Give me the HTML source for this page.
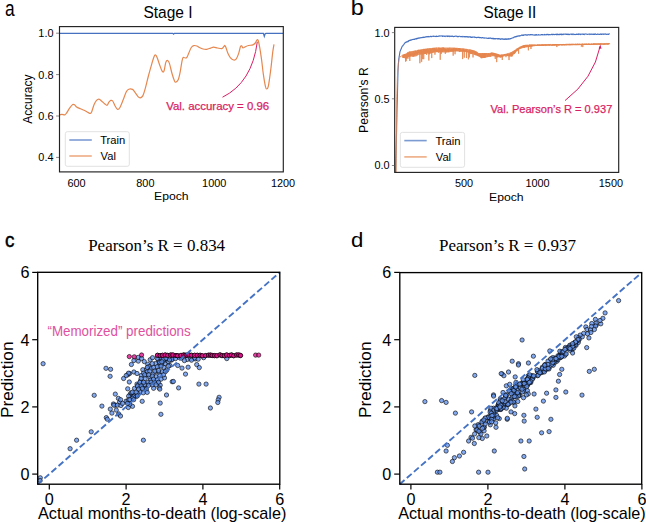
<!DOCTYPE html>
<html><head><meta charset="utf-8"><title>Figure</title>
<style>html,body{margin:0;padding:0;background:#fff;width:646px;height:523px;overflow:hidden}svg{display:block}</style>
</head><body>
<svg width="646" height="523" viewBox="0 0 646 523">
<rect width="646" height="523" fill="#fff"/>
<clipPath id="ca"><rect x="59.5" y="26.6" width="223.8" height="145.3"/></clipPath>
<path clip-path="url(#ca)" d="M59,33.4 L172.8,33.4 L173.6,34.2 L174.4,33.4 L263.4,33.4 L264.3,36.4 L265.2,33.6 L266.5,33.4 L283,33.4" fill="none" stroke="#4571c0" stroke-width="1.2"/>
<path clip-path="url(#ca)" d="M59,115.3 C59.45,115.13 60.73,114.37 61.7,114.3 C62.67,114.23 63.97,115.15 64.8,114.9 C65.63,114.65 65.87,113.98 66.7,112.8 C67.53,111.62 68.8,109.18 69.8,107.8 C70.8,106.42 71.87,104.97 72.7,104.5 C73.53,104.03 74.15,104.58 74.8,105 C75.45,105.42 75.67,106.37 76.6,107 C77.53,107.63 79.15,108.25 80.4,108.8 C81.65,109.35 82.97,109.78 84.1,110.3 C85.23,110.82 86.27,111.38 87.2,111.9 C88.13,112.42 88.98,113.35 89.7,113.4 C90.42,113.45 90.78,113.65 91.5,112.2 C92.22,110.75 93.17,106.67 94,104.7 C94.83,102.73 95.67,101.33 96.5,100.4 C97.33,99.47 98.17,99 99,99.1 C99.83,99.2 100.57,100.23 101.5,101 C102.43,101.77 103.67,102.98 104.6,103.7 C105.53,104.42 106.38,105.55 107.1,105.3 C107.82,105.05 108.28,103.02 108.9,102.2 C109.52,101.38 110.17,100.6 110.8,100.4 C111.43,100.2 111.98,100.07 112.7,101 C113.42,101.93 114.28,104.6 115.1,106 C115.92,107.4 116.77,109.2 117.6,109.4 C118.43,109.6 119.17,108.8 120.1,107.2 C121.03,105.6 122.17,102.38 123.2,99.8 C124.23,97.22 125.37,93.47 126.3,91.7 C127.23,89.93 127.77,89.58 128.8,89.2 C129.83,88.82 131.47,88.88 132.5,89.4 C133.53,89.92 134.08,91.1 135,92.3 C135.92,93.5 137.12,95.68 138,96.6 C138.88,97.52 139.5,97.92 140.3,97.8 C141.1,97.68 141.97,97.47 142.8,95.9 C143.63,94.33 144.37,91.72 145.3,88.4 C146.23,85.08 147.37,79.93 148.4,76 C149.43,72.07 150.57,68 151.5,64.8 C152.43,61.6 153.37,58.45 154,56.8 C154.63,55.15 154.78,54.8 155.3,54.9 C155.82,55 156.38,55.75 157.1,57.4 C157.82,59.05 158.77,62.52 159.6,64.8 C160.43,67.08 161.37,70.05 162.1,71.1 C162.83,72.15 163.38,72.55 164,71.1 C164.62,69.65 165.18,64.17 165.8,62.4 C166.42,60.63 167.08,60.3 167.7,60.5 C168.32,60.7 168.78,61.43 169.5,63.6 C170.22,65.77 171.17,70.6 172,73.5 C172.83,76.4 173.87,79.55 174.5,81 C175.13,82.45 175.18,82.4 175.8,82.2 C176.42,82 177.48,81.45 178.2,79.8 C178.92,78.15 179.47,75.42 180.1,72.3 C180.73,69.18 181.48,63.58 182,61.1 C182.52,58.62 182.68,57.92 183.2,57.4 C183.72,56.88 184.48,58 185.1,58 C185.72,58 186.28,58.23 186.9,57.4 C187.52,56.57 188.07,54.65 188.8,53 C189.53,51.35 190.47,48.73 191.3,47.5 C192.13,46.27 192.87,45.85 193.8,45.6 C194.73,45.35 195.97,45.68 196.9,46 C197.83,46.32 198.37,47 199.4,47.5 C200.43,48 201.87,48.7 203.1,49 C204.33,49.3 205.57,49.45 206.8,49.3 C208.03,49.15 209.37,48.45 210.5,48.1 C211.63,47.75 212.43,47.22 213.6,47.2 C214.77,47.18 216.13,47.77 217.5,48 C218.87,48.23 220.77,48.82 221.8,48.6 C222.83,48.38 223.18,47.22 223.7,46.7 C224.22,46.18 224.5,45.28 224.9,45.5 C225.3,45.72 225.58,46.65 226.1,48 C226.62,49.35 227.27,51.95 228,53.6 C228.73,55.25 229.57,56.83 230.5,57.9 C231.43,58.97 232.67,59.78 233.6,60 C234.53,60.22 235.27,60.27 236.1,59.2 C236.93,58.13 237.88,55.68 238.6,53.6 C239.32,51.52 239.88,47.98 240.4,46.7 C240.92,45.42 241.28,45.68 241.7,45.9 C242.12,46.12 242.28,47.87 242.9,48 C243.52,48.13 244.47,47.12 245.4,46.7 C246.33,46.28 247.25,45.8 248.5,45.5 C249.75,45.2 251.77,45.32 252.9,44.9 C254.03,44.48 254.62,43.83 255.3,43 C255.98,42.17 256.52,40.32 257,39.9 C257.48,39.48 257.75,39.25 258.2,40.5 C258.65,41.75 259.13,44.18 259.7,47.4 C260.27,50.62 260.98,55.25 261.6,59.8 C262.22,64.35 262.78,70.35 263.4,74.7 C264.02,79.05 264.78,83.52 265.3,85.9 C265.82,88.28 265.98,89 266.5,89 C267.02,89 267.67,89.32 268.4,85.9 C269.13,82.48 270.18,74.1 270.9,68.5 C271.62,62.9 272.18,56.33 272.7,52.3 C273.22,48.27 273.78,45.63 274,44.3" fill="none" stroke="#e6874f" stroke-width="1.2" stroke-linejoin="round"/>
<rect x="59.5" y="26.6" width="223.8" height="145.3" fill="none" stroke="#222" stroke-width="1.15"/>
<line x1="56.1" y1="33.2" x2="59" y2="33.2" stroke="#555" stroke-width="0.7"/>
<text x="53.5" y="37.1" font-size="10.9" text-anchor="end" fill="#000" style="font-family:'Liberation Sans'">1.0</text>
<line x1="56.1" y1="74.6" x2="59" y2="74.6" stroke="#555" stroke-width="0.7"/>
<text x="53.5" y="78.5" font-size="10.9" text-anchor="end" fill="#000" style="font-family:'Liberation Sans'">0.8</text>
<line x1="56.1" y1="116" x2="59" y2="116" stroke="#555" stroke-width="0.7"/>
<text x="53.5" y="119.9" font-size="10.9" text-anchor="end" fill="#000" style="font-family:'Liberation Sans'">0.6</text>
<line x1="56.1" y1="157.4" x2="59" y2="157.4" stroke="#555" stroke-width="0.7"/>
<text x="53.5" y="161.3" font-size="10.9" text-anchor="end" fill="#000" style="font-family:'Liberation Sans'">0.4</text>
<text x="76.6" y="186.5" font-size="10.9" text-anchor="middle" fill="#000" style="font-family:'Liberation Sans'">600</text>
<text x="145.4" y="186.5" font-size="10.9" text-anchor="middle" fill="#000" style="font-family:'Liberation Sans'">800</text>
<text x="214.2" y="186.5" font-size="10.9" text-anchor="middle" fill="#000" style="font-family:'Liberation Sans'">1000</text>
<text x="283" y="186.5" font-size="10.9" text-anchor="middle" fill="#000" style="font-family:'Liberation Sans'">1200</text>
<rect x="65.3" y="131.7" width="64" height="34.6" rx="2" fill="#fff" fill-opacity="0.8" stroke="#d9d9d9" stroke-width="0.8"/>
<line x1="69.3" y1="140" x2="91.8" y2="140" stroke="#4571c0" stroke-width="1.6" stroke-opacity="0.7"/>
<line x1="69.3" y1="156" x2="91.8" y2="156" stroke="#e6874f" stroke-width="1.6" stroke-opacity="0.7"/>
<path d="M222.5,97.2 Q252.1,82.5 257.3,41.8" fill="none" stroke="#d81e63" stroke-width="1"/>
<clipPath id="cb"><rect x="394.7" y="27.4" width="224.00000000000006" height="145.0"/></clipPath>
<polyline clip-path="url(#cb)" points="395.6,172.5 395.7,168.44 395.8,164.38 395.9,160.31 396,156.25 396.1,152.19 396.2,148.13 396.3,144.06 396.4,140 396.5,135 396.6,130 396.7,125 396.8,120 396.9,115 397,110 397.1,106.73 397.2,103.45 397.3,100.18 397.4,96.9 397.5,92.45 397.6,88 397.7,83.55 397.8,79.1 397.9,74.65 398,70.2 398.1,68.67 398.2,67.14 398.3,65.61 398.4,64.09 398.5,62.56 398.6,61.03 398.7,59.5 398.8,58.89 398.9,58.28 399,57.68 399.1,57.07 399.2,56.46 399.3,55.85 399.4,55.25 399.5,54.64 399.6,54.03 399.7,53.42 399.8,52.82 399.9,52.21 400,51.6 400.3,50.88 400.6,50.16 400.9,49.44 401.2,48.72 401.5,48 401.8,47.28 402.1,46.55 402.4,46.06 402.7,46.04 403,45.27 403.3,45.22 403.6,44.73 403.9,44.14 404.2,44.09 404.5,43.39 404.8,43.29 405.1,42.67 405.4,42.31 405.7,42.4 406,42.53 406.3,41.89 406.6,41.81 406.9,41.94 407.2,42.01 407.5,41.6 407.8,41.33 408.1,41.58 408.4,40.78 408.7,41.2 409,40.65 409.3,40.4 409.6,40.23 409.9,40.22 410.2,40.47 410.5,39.95 410.8,40.16 411.1,40.12 411.4,39.86 411.7,39.91 412,39.49 412.3,39.42 412.6,39.44 412.9,39.7 413.2,39.45 413.5,39.29 413.8,39.41 414.1,39.24 414.4,39.06 414.7,39.33 415,39.19 415.3,38.8 415.6,38.95 415.9,38.84 416.2,39.01 416.5,38.84 416.8,38.45 417.1,38.86 417.4,38.18 417.7,38.32 418,38.48 418.3,37.99 418.6,38.15 418.9,37.77 419.2,38.14 419.5,38.14 419.8,37.93 420.1,38.07 420.4,37.61 420.7,37.81 421,37.67 421.3,37.62 421.6,37.5 421.9,37.73 422.2,37.76 422.5,37.4 422.8,37.49 423.1,37.04 423.4,37.45 423.7,37.37 424,37.58 424.3,37.42 424.6,37.01 424.9,37.04 425.2,37.2 425.5,36.72 425.8,36.99 426.1,36.74 426.4,36.67 426.7,36.59 427,37.05 427.3,36.57 427.6,36.62 427.9,36.68 428.2,36.98 428.5,36.39 428.8,36.61 429.1,36.64 429.4,36.84 429.7,36.76 430,36.75 430.3,36.34 430.6,36.42 430.9,36.37 431.2,36.73 431.5,36.78 431.8,36.2 432.1,36.21 432.4,36.24 432.7,36.23 433,36.4 433.3,36.46 433.6,36.23 433.9,36.04 434.2,36.32 434.5,36.27 434.8,36.4 435.1,36.66 435.4,36.47 435.7,36.34 436,36.4 436.3,36.43 436.6,35.99 436.9,36.57 437.2,36.48 437.5,36.54 437.8,36.47 438.1,36.18 438.4,36.18 438.7,35.96 439,36.32 439.3,35.91 439.6,35.91 439.9,36 440.2,35.96 440.5,36.09 440.8,35.89 441.1,35.86 441.4,35.97 441.7,35.93 442,36.12 442.3,35.88 442.6,36.48 442.9,36.3 443.2,35.98 443.5,36.05 443.8,36.12 444.1,36.13 444.4,35.97 444.7,36.48 445,36.58 445.3,36.21 445.6,36.23 445.9,35.95 446.2,35.96 446.5,36.13 446.8,36.08 447.1,36.48 447.4,36.01 447.7,35.92 448,36.57 448.3,36.28 448.6,36.01 448.9,36.29 449.2,35.93 449.5,36.28 449.8,36.6 450.1,36.52 450.4,36.41 450.7,36.1 451,36.18 451.3,36.04 451.6,36.47 451.9,36.3 452.2,36.48 452.5,36.16 452.8,36.09 453.1,36.51 453.4,36.63 453.7,36.54 454,36.51 454.3,36.52 454.6,36.47 454.9,36.11 455.2,36.32 455.5,36.22 455.8,36 456.1,36.01 456.4,36.2 456.7,36.19 457,36.51 457.3,36.7 457.6,36.36 457.9,36.71 458.2,36.76 458.5,36.75 458.8,36.35 459.1,36.26 459.4,36.27 459.7,36.26 460,36.28 460.3,36.58 460.6,36.79 460.9,36.76 461.2,36.52 461.5,36.65 461.8,36.76 462.1,36.27 462.4,36.69 462.7,36.87 463,36.79 463.3,36.78 463.6,36.6 463.9,36.4 464.2,36.84 464.5,36.53 464.8,36.87 465.1,37 465.4,36.61 465.7,36.63 466,37.03 466.3,36.89 466.6,36.52 466.9,36.51 467.2,36.55 467.5,37.09 467.8,37.04 468.1,36.6 468.4,37.1 468.7,37.22 469,37.02 469.3,36.82 469.6,36.98 469.9,36.7 470.2,36.64 470.5,37.33 470.8,37.13 471.1,37.06 471.4,37.36 471.7,37.03 472,37.36 472.3,37.35 472.6,36.93 472.9,36.98 473.2,37.03 473.5,37.01 473.8,37.27 474.1,37.06 474.4,37.2 474.7,37.01 475,37.58 475.3,37.21 475.6,37.3 475.9,37.41 476.2,37.65 476.5,37.33 476.8,37.7 477.1,37.43 477.4,37.47 477.7,37.48 478,37.15 478.3,37.46 478.6,37.3 478.9,37.2 479.2,37.77 479.5,37.35 479.8,37.58 480.1,37.78 480.4,37.68 480.7,37.54 481,37.69 481.3,37.74 481.6,37.92 481.9,37.46 482.2,37.8 482.5,37.6 482.8,37.64 483.1,38.01 483.4,37.84 483.7,37.9 484,38.06 484.3,38.18 484.6,37.87 484.9,38.01 485.2,37.95 485.5,37.98 485.8,38.12 486.1,37.98 486.4,38.05 486.7,38.03 487,38.38 487.3,38.23 487.6,38.37 487.9,38.44 488.2,37.98 488.5,38.22 488.8,38.51 489.1,38.46 489.4,37.99 489.7,38 490,38.24 490.3,38.01 490.6,38.15 490.9,38.05 491.2,38.49 491.5,38.6 491.8,38.7 492.1,38.2 492.4,38.61 492.7,38.6 493,38.26 493.3,38.8 493.6,38.88 493.9,38.38 494.2,38.91 494.5,38.55 494.8,38.63 495.1,39.01 495.4,38.92 495.7,38.47 496,38.68 496.3,38.76 496.6,38.66 496.9,38.58 497.2,38.69 497.5,39 497.8,38.53 498.1,38.92 498.4,38.86 498.7,38.58 499,38.81 499.3,39.03 499.6,38.96 499.9,38.66 500.2,39.31 500.5,39.19 500.8,39.33 501.1,38.73 501.4,38.86 501.7,38.71 502,39.24 502.3,38.9 502.6,38.81 502.9,39.03 503.2,39.38 503.5,39.33 503.8,38.95 504.1,38.88 504.4,39.43 504.7,39.2 505,39.3 505.3,38.89 505.6,38.88 505.9,39.33 506.2,39.12 506.5,38.85 506.8,39.42 507.1,39.18 507.4,39.27 507.7,38.74 508,39.25 508.3,38.67 508.6,39.2 508.9,38.89 509.2,38.78 509.5,38.9 509.8,39.14 510.1,38.65 510.4,38.52 510.7,38.77 511,38.54 511.3,38.43 511.6,38.32 511.9,38.1 512.2,38.06 512.5,37.99 512.8,37.84 513.1,38.01 513.4,37.54 513.7,37.54 514,37.17 514.3,37.18 514.6,36.84 514.9,36.89 515.2,36.62 515.5,37.01 515.8,36.77 516.1,36.41 516.4,36.5 516.7,36.71 517,36.02 517.3,36.41 517.6,36.03 517.9,35.98 518.2,36.17 518.5,35.82 518.8,35.85 519.1,35.93 519.4,36.09 519.7,35.6 520,35.9 520.3,35.76 520.6,35.67 520.9,35.46 521.2,35.37 521.5,35.12 521.8,35.13 522.1,35.04 522.4,35.47 522.7,35.08 523,34.97 523.3,34.87 523.6,35.35 523.9,35.33 524.2,35.14 524.5,34.82 524.8,34.75 525.1,34.76 525.4,34.87 525.7,34.66 526,34.86 526.3,34.73 526.6,35.22 526.9,35.23 527.2,34.93 527.5,34.72 527.8,35.23 528.1,34.77 528.4,34.8 528.7,34.55 529,34.82 529.3,34.88 529.6,34.9 529.9,34.69 530.2,34.9 530.5,34.55 530.8,34.73 531.1,34.61 531.4,34.83 531.7,34.58 532,34.57 532.3,34.76 532.6,34.71 532.9,34.96 533.2,34.92 533.5,35.08 533.8,35.01 534.1,35.05 534.4,35.17 534.7,34.82 535,34.77 535.3,35.23 535.6,34.64 535.9,35.03 536.2,34.97 536.5,34.54 536.8,35.09 537.1,35.13 537.4,34.93 537.7,35 538,35.05 538.3,34.57 538.6,34.84 538.9,34.82 539.2,35.04 539.5,35.02 539.8,35.02 540.1,34.85 540.4,35.06 540.7,34.91 541,34.91 541.3,34.58 541.6,34.43 541.9,34.5 542.2,34.65 542.5,34.46 542.8,34.97 543.1,34.77 543.4,34.81 543.7,34.8 544,34.84 544.3,34.7 544.6,34.35 544.9,34.9 545.2,34.86 545.5,34.68 545.8,34.7 546.1,34.78 546.4,34.36 546.7,34.82 547,34.48 547.3,34.34 547.6,34.47 547.9,34.79 548.2,34.42 548.5,34.79 548.8,34.95 549.1,34.6 549.4,34.52 549.7,34.58 550,34.72 550.3,34.77 550.6,34.66 550.9,34.67 551.2,34.27 551.5,34.31 551.8,34.38 552.1,34.72 552.4,34.4 552.7,34.58 553,34.19 553.3,34.21 553.6,34.35 553.9,34.63 554.2,34.64 554.5,34.62 554.8,34.34 555.1,34.5 555.4,34.45 555.7,34.45 556,34.2 556.3,34.73 556.6,34.24 556.9,34.78 557.2,34.75 557.5,34.1 557.8,34.4 558.1,34.65 558.4,34.74 558.7,34.37 559,34.24 559.3,34.19 559.6,34.7 559.9,34.18 560.2,34.44 560.5,34.12 560.8,34.38 561.1,34.68 561.4,34.1 561.7,34.57 562,34.35 562.3,34.61 562.6,34.47 562.9,34.14 563.2,34.6 563.5,34.3 563.8,33.97 564.1,33.95 564.4,34.29 564.7,34.26 565,34.16 565.3,34.05 565.6,34.19 565.9,34.17 566.2,34.53 566.5,33.95 566.8,34.47 567.1,34.53 567.4,34.03 567.7,34.59 568,34.44 568.3,34.57 568.6,34.14 568.9,34.2 569.2,34.21 569.5,34.64 569.8,34.35 570.1,34.19 570.4,34.24 570.7,34.13 571,33.97 571.3,34.01 571.6,34.52 571.9,34.13 572.2,34.59 572.5,34.11 572.8,34.12 573.1,34.29 573.4,34.06 573.7,34.19 574,34.6 574.3,34.55 574.6,34.5 574.9,34.37 575.2,34.57 575.5,34.58 575.8,34.31 576.1,34.43 576.4,33.96 576.7,34.44 577,34.24 577.3,34.45 577.6,34.37 577.9,34.12 578.2,33.95 578.5,34.57 578.8,34.01 579.1,34.25 579.4,34.16 579.7,34.12 580,34.43 580.3,34.6 580.6,34.1 580.9,34.37 581.2,34.12 581.5,34.3 581.8,34.19 582.1,34.03 582.4,34.02 582.7,34.05 583,34.54 583.3,34.26 583.6,34.06 583.9,34.54 584.2,34.6 584.5,34.22 584.8,34 585.1,34.04 585.4,33.97 585.7,34.14 586,33.97 586.3,34.07 586.6,34.08 586.9,34.3 587.2,34.52 587.5,34.42 587.8,34.19 588.1,34.19 588.4,34.26 588.7,34.16 589,34.13 589.3,33.94 589.6,34.09 589.9,34.57 590.2,33.98 590.5,34.24 590.8,34.33 591.1,34.49 591.4,34.04 591.7,34.08 592,34.06 592.3,34.17 592.6,34.2 592.9,34.55 593.2,34.48 593.5,34.5 593.8,33.9 594.1,33.91 594.4,34.38 594.7,34.51 595,34.21 595.3,34.29 595.6,33.88 595.9,34.15 596.2,34.53 596.5,34.46 596.8,34.48 597.1,34.56 597.4,34.05 597.7,33.95 598,33.98 598.3,34.24 598.6,34.35 598.9,34.53 599.2,34.38 599.5,34.33 599.8,34.41 600.1,34.19 600.4,34.26 600.7,33.9 601,34.42 601.3,34.03 601.6,34.51 601.9,34.32 602.2,34.08 602.5,33.96 602.8,34.04 603.1,34.31 603.4,34.35 603.7,33.94 604,33.91 604.3,34.23 604.6,34.27 604.9,34.13 605.2,34.02 605.5,34.28 605.8,33.87 606.1,34.07 606.4,34.18 606.7,34.53 607,34.31 607.3,34.47 607.6,34.19 607.9,34.02 608.2,34.03 608.5,34.53 608.8,34.35 609.1,34.07 609.4,33.87 609.7,34.2" fill="none" stroke="#4571c0" stroke-width="1.1" stroke-linejoin="round"/>
<polygon clip-path="url(#cb)" points="402.5,54.8 403,54.61 403.5,54.42 404,54.23 404.5,54.04 405,53.85 405.5,53.64 406,53.35 406.5,53.05 407,52.76 407.5,52.46 408,52.17 408.5,51.87 409,51.58 409.5,51.37 410,51.3 410.5,51.22 411,51.15 411.5,51.07 412,51 412.5,50.92 413,50.85 413.5,50.77 414,50.7 414.5,50.62 415,50.55 415.5,50.47 416,50.4 416.5,50.25 417,50.09 417.5,49.94 418,49.78 418.5,49.63 419,49.54 419.5,49.46 420,49.39 420.5,49.31 421,49.24 421.5,49.16 422,49.09 422.5,49.01 423,48.94 423.5,48.86 424,48.79 424.5,48.71 425,48.64 425.5,48.56 426,48.49 426.5,48.41 427,48.34 427.5,48.26 428,48.19 428.5,48.15 429,48.12 429.5,48.08 430,48.04 430.5,48 431,47.96 431.5,47.93 432,47.89 432.5,47.85 433,47.81 433.5,47.77 434,47.74 434.5,47.7 435,47.66 435.5,47.62 436,47.58 436.5,47.55 437,47.51 437.5,47.5 438,47.5 438.5,47.5 439,47.5 439.5,47.5 440,47.5 440.5,47.5 441,47.5 441.5,47.5 442,47.5 442.5,47.5 443,47.5 443.5,47.5 444,47.5 444.5,47.5 445,47.5 445.5,47.5 446,47.5 446.5,47.5 447,47.51 447.5,47.51 448,47.52 448.5,47.52 449,47.53 449.5,47.54 450,47.54 450.5,47.55 451,47.55 451.5,47.56 452,47.57 452.5,47.57 453,47.58 453.5,47.58 454,47.59 454.5,47.59 455,47.6 455.5,47.65 456,47.7 456.5,47.75 457,47.8 457.5,47.85 458,47.91 458.5,47.96 459,48.01 459.5,48.06 460,48.11 460.5,48.16 461,48.21 461.5,48.26 462,48.31 462.5,48.36 463,48.41 463.5,48.47 464,48.52 464.5,48.57 465,48.62 465.5,48.67 466,48.74 466.5,48.83 467,48.92 467.5,49.01 468,49.1 468.5,49.2 469,49.29 469.5,49.38 470,49.47 470.5,49.56 471,49.66 471.5,49.75 472,49.84 472.5,49.93 473,50.02 473.5,50.12 474,50.21 474.5,50.3 475,50.63 475.5,50.95 476,51.28 476.5,51.6 477,51.93 477.5,52.25 478,52.58 478.5,52.9 479,53.1 479.5,53.1 480,53.1 480.5,53.1 481,53.1 481.5,53.1 482,53.1 482.5,53.1 483,53.1 483.5,53.1 484,53.1 484.5,53.1 485,53.1 485.5,53.1 486,53.1 486.5,53.1 487,53.1 487.5,53.1 488,53.04 488.5,52.99 489,52.93 489.5,52.88 490,52.82 490.5,52.77 491,52.71 491.5,52.66 492,52.6 492.5,52.54 493,52.53 493.5,52.67 494,52.82 494.5,52.96 495,53.11 495.5,53.25 496,53.4 496.5,53.54 497,53.69 497.5,53.83 498,53.98 498.5,54.12 499,54.27 499.5,54.41 500,54.56 500.5,54.7 501,54.62 501.5,54.53 502,54.45 502.5,54.36 503,54.28 503.5,54.19 504,54.11 504.5,54.02 505,53.94 505.5,53.85 506,53.77 506.5,53.68 507,53.6 507.5,53.41 508,53.23 508.5,53.04 509,52.86 509.5,52.67 510,52.48 510.5,52.3 511,52.11 511.5,51.88 512,51.57 512.5,51.26 513,50.96 513.5,50.65 514,50.34 514.5,50.04 515,49.73 515.5,49.42 516,49.11 516.5,48.8 517,48.48 517.5,48.17 518,47.86 518.5,47.54 519,47.23 519.5,46.91 520,46.6 520.5,46.41 521,46.22 521.5,46.03 522,45.84 522.5,45.65 523,45.46 523.5,45.27 524,45.08 524.5,44.89 525,44.7 525.5,44.69 526,44.68 526.5,44.67 527,44.66 527.5,44.65 528,44.64 528.5,44.63 529,44.62 529.5,44.61 530,44.6 530.5,44.59 531,44.58 531.5,44.57 532,44.56 532.5,44.55 533,44.54 533.5,44.52 534,44.51 534.5,44.5 535,44.49 535.5,44.48 536,44.47 536.5,44.46 537,44.45 537.5,44.44 538,44.43 538.5,44.42 539,44.41 539.5,44.4 540,44.39 540.5,44.38 541,44.37 541.5,44.36 542,44.35 542.5,44.34 543,44.33 543.5,44.32 544,44.31 544.5,44.3 545,44.29 545.5,44.28 546,44.27 546.5,44.26 547,44.25 547.5,44.24 548,44.23 548.5,44.22 549,44.21 549.5,44.2 550,44.19 550.5,44.18 551,44.17 551.5,44.16 552,44.15 552.5,44.14 553,44.13 553.5,44.12 554,44.11 554.5,44.1 555,44.09 555.5,44.08 556,44.07 556.5,44.06 557,44.04 557.5,44.03 558,44.02 558.5,44.01 559,44 559.5,43.99 560,43.98 560.5,43.97 561,43.96 561.5,43.95 562,43.94 562.5,43.93 563,43.92 563.5,43.91 564,43.9 564.5,43.89 565,43.89 565.5,43.88 566,43.87 566.5,43.86 567,43.86 567.5,43.85 568,43.84 568.5,43.83 569,43.82 569.5,43.82 570,43.81 570.5,43.8 571,43.79 571.5,43.79 572,43.78 572.5,43.77 573,43.76 573.5,43.76 574,43.75 574.5,43.74 575,43.73 575.5,43.73 576,43.72 576.5,43.71 577,43.7 577.5,43.69 578,43.69 578.5,43.68 579,43.67 579.5,43.66 580,43.66 580.5,43.65 581,43.64 581.5,43.63 582,43.63 582.5,43.62 583,43.61 583.5,43.6 584,43.59 584.5,43.59 585,43.58 585.5,43.57 586,43.56 586.5,43.56 587,43.55 587.5,43.54 588,43.53 588.5,43.53 589,43.52 589.5,43.51 590,43.5 590.5,43.49 591,43.49 591.5,43.48 592,43.47 592.5,43.46 593,43.46 593.5,43.45 594,43.44 594.5,43.43 595,43.43 595.5,43.42 596,43.41 596.5,43.4 597,43.39 597.5,43.39 598,43.38 598.5,43.37 599,43.36 599.5,43.36 600,43.35 600.5,43.34 601,43.33 601.5,43.33 602,43.32 602.5,43.31 603,43.3 603.5,43.3 604,43.29 604.5,43.28 605,43.27 605.5,43.26 606,43.26 606.5,43.25 607,43.24 607.5,43.23 608,43.23 608.5,43.22 609,43.21 609.5,43.2 609.5,44.6 609,44.61 608.5,44.62 608,44.63 607.5,44.64 607,44.65 606.5,44.66 606,44.66 605.5,44.67 605,44.68 604.5,44.69 604,44.7 603.5,44.71 603,44.72 602.5,44.73 602,44.74 601.5,44.74 601,44.75 600.5,44.76 600,44.77 599.5,44.78 599,44.79 598.5,44.8 598,44.81 597.5,44.81 597,44.82 596.5,44.83 596,44.84 595.5,44.85 595,44.86 594.5,44.87 594,44.88 593.5,44.88 593,44.89 592.5,44.9 592,44.91 591.5,44.92 591,44.93 590.5,44.94 590,44.95 589.5,44.95 589,44.96 588.5,44.97 588,44.98 587.5,44.99 587,45 586.5,45.01 586,45.02 585.5,45.02 585,45.03 584.5,45.04 584,45.05 583.5,45.06 583,45.07 582.5,45.08 582,45.09 581.5,45.09 581,45.1 580.5,45.11 580,45.12 579.5,45.13 579,45.14 578.5,45.15 578,45.16 577.5,45.16 577,45.17 576.5,45.18 576,45.19 575.5,45.2 575,45.21 574.5,45.22 574,45.23 573.5,45.24 573,45.24 572.5,45.25 572,45.26 571.5,45.27 571,45.28 570.5,45.29 570,45.3 569.5,45.31 569,45.31 568.5,45.32 568,45.33 567.5,45.34 567,45.35 566.5,45.36 566,45.37 565.5,45.38 565,45.38 564.5,45.39 564,45.4 563.5,45.41 563,45.43 562.5,45.44 562,45.45 561.5,45.46 561,45.47 560.5,45.49 560,45.5 559.5,45.51 559,45.52 558.5,45.53 558,45.55 557.5,45.56 557,45.57 556.5,45.58 556,45.59 555.5,45.6 555,45.62 554.5,45.63 554,45.64 553.5,45.65 553,45.66 552.5,45.68 552,45.69 551.5,45.7 551,45.71 550.5,45.72 550,45.74 549.5,45.75 549,45.76 548.5,45.77 548,45.78 547.5,45.8 547,45.81 546.5,45.82 546,45.83 545.5,45.84 545,45.85 544.5,45.87 544,45.88 543.5,45.89 543,45.9 542.5,45.91 542,45.93 541.5,45.94 541,45.95 540.5,45.96 540,45.97 539.5,45.99 539,46 538.5,46.01 538,46.02 537.5,46.03 537,46.05 536.5,46.06 536,46.07 535.5,46.08 535,46.09 534.5,46.13 534,46.22 533.5,46.3 533,46.38 532.5,46.46 532,46.55 531.5,46.63 531,46.71 530.5,46.79 530,46.88 529.5,46.96 529,47.04 528.5,47.12 528,47.21 527.5,47.29 527,47.37 526.5,47.45 526,47.54 525.5,47.62 525,47.7 524.5,47.8 524,47.9 523.5,48 523,48.1 522.5,48.2 522,48.3 521.5,48.4 521,48.5 520.5,48.6 520,48.7 519.5,49.14 519,49.58 518.5,50.03 518,50.47 517.5,50.91 517,51.35 516.5,51.79 516,52.23 515.5,52.7 515,53.18 514.5,53.67 514,54.16 513.5,54.65 513,55.14 512.5,55.63 512,56.12 511.5,56.6 511,56.74 510.5,56.64 510,56.54 509.5,56.43 509,56.33 508.5,56.23 508,56.13 507.5,56.03 507,55.92 506.5,55.82 506,55.72 505.5,55.85 505,56.03 504.5,56.22 504,56.4 503.5,56.59 503,56.77 502.5,56.96 502,57.14 501.5,57.33 501,57.51 500.5,57.7 500,57.6 499.5,57.5 499,57.4 498.5,57.31 498,57.21 497.5,57.11 497,57.01 496.5,56.91 496,56.81 495.5,56.71 495,56.61 494.5,56.52 494,56.42 493.5,56.32 493,56.22 492.5,56.27 492,56.37 491.5,56.46 491,56.55 490.5,56.64 490,56.74 489.5,56.83 489,56.92 488.5,57.01 488,57.11 487.5,57.2 487,57.29 486.5,57.39 486,57.48 485.5,57.57 485,57.66 484.5,57.76 484,57.85 483.5,57.94 483,58.03 482.5,58.13 482,58.15 481.5,57.92 481,57.69 480.5,57.46 480,57.23 479.5,57 479,56.76 478.5,56.53 478,56.3 477.5,56.07 477,55.84 476.5,55.63 476,55.46 475.5,55.28 475,55.11 474.5,54.93 474,54.76 473.5,54.58 473,54.41 472.5,54.24 472,54.06 471.5,53.89 471,53.71 470.5,53.54 470,53.36 469.5,53.19 469,53.02 468.5,52.84 468,52.67 467.5,52.49 467,52.32 466.5,52.14 466,51.97 465.5,51.89 465,51.86 464.5,51.84 464,51.82 463.5,51.79 463,51.77 462.5,51.75 462,51.72 461.5,51.7 461,51.68 460.5,51.65 460,51.63 459.5,51.61 459,51.59 458.5,51.56 458,51.54 457.5,51.52 457,51.49 456.5,51.47 456,51.45 455.5,51.42 455,51.4 454.5,51.48 454,51.55 453.5,51.63 453,51.7 452.5,51.78 452,51.85 451.5,51.93 451,52 450.5,52.08 450,52.16 449.5,52.23 449,52.31 448.5,52.38 448,52.46 447.5,52.53 447,52.61 446.5,52.68 446,52.68 445.5,52.65 445,52.62 444.5,52.6 444,52.57 443.5,52.54 443,52.52 442.5,52.49 442,52.46 441.5,52.44 441,52.41 440.5,52.38 440,52.36 439.5,52.33 439,52.3 438.5,52.28 438,52.25 437.5,52.22 437,52.22 436.5,52.29 436,52.37 435.5,52.44 435,52.52 434.5,52.6 434,52.67 433.5,52.75 433,52.82 432.5,52.9 432,52.98 431.5,53.05 431,53.13 430.5,53.2 430,53.28 429.5,53.36 429,53.43 428.5,53.51 428,53.58 427.5,53.66 427,53.74 426.5,53.81 426,53.89 425.5,53.96 425,54.04 424.5,54.11 424,54.19 423.5,54.26 423,54.34 422.5,54.41 422,54.49 421.5,54.56 421,54.64 420.5,54.71 420,54.79 419.5,54.86 419,54.94 418.5,55.06 418,55.35 417.5,55.63 417,55.92 416.5,56.21 416,56.5 415.5,56.53 415,56.56 414.5,56.59 414,56.62 413.5,56.65 413,56.68 412.5,56.71 412,56.74 411.5,56.77 411,56.8 410.5,56.83 410,56.86 409.5,56.89 409,57.02 408.5,57.23 408,57.43 407.5,57.64 407,57.84 406.5,58.05 406,58.25 405.5,58.46 405,58.39 404.5,58.25 404,58.11 403.5,57.98 403,57.84 402.5,57.7" fill="#e6874f" fill-opacity="0.85"/>
<polyline clip-path="url(#cb)" points="396.2,172.5 396.3,158.33 396.4,144.17 396.5,130 396.6,114.8 396.7,99.6 396.8,96.36 396.9,93.11 397,89.87 397.1,86.63 397.2,83.39 397.3,80.14 397.4,76.9 397.5,75.56 397.6,74.22 397.7,72.88 397.8,71.54 397.9,70.2 398,68.86 398.1,67.52 398.2,66.18 398.3,64.84 398.4,63.5 398.5,62.96 398.6,62.42 398.7,61.88 398.8,61.34 398.9,60.8 399,60.26 399.1,59.72 399.2,59.18 399.3,58.64 399.4,58.1 399.5,57.95 399.6,57.79 399.7,57.64 399.8,57.48 399.9,57.33 400,57.18 400.1,57.02 400.2,56.87 400.3,56.72 400.4,56.56 400.5,56.41 400.6,56.25 400.7,56.63 400.86,56.41 401.02,56.4 401.18,56.08 401.34,56.02 401.5,55.83 401.66,55.79 401.82,55.55 401.98,55.42 402.14,55.27 402.3,55.23 402.46,55.13 402.62,55.37 402.78,56 402.94,57.57 403.1,55.89 403.26,57.73 403.42,54.72 403.58,55.83 403.74,57.53 403.9,57.98 404.06,55.53 404.22,57.83 404.38,54.31 404.54,55.65 404.7,55.44 404.86,54.02 405.02,55.47 405.18,54.43 405.34,54.77 405.5,57.54 405.66,61.73 405.82,55.29 405.98,54.37 406.14,60.97 406.3,57.13 406.46,58.61 406.62,57.51 406.78,56.61 406.94,54.55 407.1,57.5 407.26,54 407.42,54.18 407.58,52.53 407.74,57.02 407.9,58.89 408.06,54.64 408.22,57.01 408.38,53.33 408.54,54.5 408.7,52.8 408.86,55.62 409.02,55.72 409.18,53.3 409.34,53.41 409.5,51.89 409.66,55.46 409.82,60.97 409.98,53.14 410.14,56.12 410.3,52.78 410.46,51.85 410.62,55.15 410.78,52.55 410.94,54.63 411.1,55.32 411.26,54.85 411.42,55.8 411.58,54.28 411.74,55.21 411.9,52.48 412.06,51.94 412.22,54.28 412.38,53.25 412.54,53.85 412.7,55.52 412.86,56.54 413.02,53.62 413.18,55.67 413.34,51.13 413.5,51.55 413.66,56.39 413.82,56.13 413.98,55.75 414.14,52.27 414.3,56.19 414.46,54.16 414.62,51.96 414.78,51.5 414.94,52.14 415.1,54.43 415.26,50.68 415.42,54.55 415.58,52.39 415.74,55.21 415.9,50.89 416.06,52.81 416.22,54.17 416.38,51.33 416.54,52.69 416.7,52.04 416.86,52.01 417.02,52.2 417.18,54.96 417.34,52.1 417.5,54.04 417.66,50.02 417.82,52.23 417.98,52.07 418.14,52.3 418.3,49.87 418.46,53.1 418.62,50.16 418.78,51.6 418.94,50.41 419.1,52.33 419.26,50.17 419.42,53.76 419.58,50.58 419.74,54.43 419.9,63.23 420.06,51.5 420.22,52.68 420.38,50.27 420.54,50.56 420.7,53.78 420.86,50.31 421.02,51.41 421.18,51.31 421.34,50.57 421.5,58.76 421.66,61.85 421.82,49.83 421.98,52.05 422.14,50.76 422.3,52.17 422.46,52.54 422.62,59.18 422.78,51.62 422.94,53.02 423.1,51.41 423.26,51.46 423.42,49.64 423.58,49.43 423.74,59.2 423.9,49.33 424.06,52.92 424.22,49.14 424.38,50.79 424.54,49.51 424.7,53.96 424.86,53 425.02,53.84 425.18,53.68 425.34,49.54 425.5,53.5 425.66,50.46 425.82,49.44 425.98,50.02 426.14,49.31 426.3,53.32 426.46,49.88 426.62,54.89 426.78,49.31 426.94,51.98 427.1,49.3 427.26,48.99 427.42,51.68 427.58,52.89 427.74,51.34 427.9,48.84 428.06,51.55 428.22,52.4 428.38,53.38 428.54,50.11 428.7,50.51 428.86,60.53 429.02,49.51 429.18,53.22 429.34,51.57 429.5,54.28 429.66,51.29 429.82,50.74 429.98,48.81 430.14,53.66 430.3,49.9 430.46,49.89 430.62,51.01 430.78,49.1 430.94,50.43 431.1,52.7 431.26,48.78 431.42,51.18 431.58,51.87 431.74,58.08 431.9,50.75 432.06,51.14 432.22,52.54 432.38,49.17 432.54,48.16 432.7,49.9 432.86,48.2 433.02,47.97 433.18,52.41 433.34,48.84 433.5,50.29 433.66,51.73 433.82,49.32 433.98,48.07 434.14,51.52 434.3,47.84 434.46,51.3 434.62,51.27 434.78,48.83 434.94,54.68 435.1,51.24 435.26,51.66 435.42,48.96 435.58,49.73 435.74,50.11 435.9,50.64 436.06,48.67 436.22,47.74 436.38,48.73 436.54,51.93 436.7,49.11 436.86,49.1 437.02,51.7 437.18,50.72 437.34,52.02 437.5,51.4 437.66,51.48 437.82,50.89 437.98,49 438.14,50.44 438.3,51.76 438.46,47.72 438.62,51.86 438.78,52.77 438.94,50.79 439.1,50.81 439.26,47.9 439.42,49.28 439.58,51.4 439.74,47.91 439.9,51.85 440.06,48.1 440.22,59.79 440.38,51.4 440.54,51.47 440.7,48.95 440.86,48.06 441.02,48.57 441.18,53.99 441.34,48.94 441.5,49.34 441.66,52.17 441.82,51.65 441.98,47.75 442.14,49.68 442.3,49.26 442.46,50.18 442.62,51.74 442.78,51.54 442.94,47.61 443.1,51.28 443.26,47.62 443.42,49.98 443.58,48.49 443.74,49.29 443.9,48.87 444.06,48.98 444.22,51.02 444.38,48.14 444.54,48 444.7,51.02 444.86,50.69 445.02,49.58 445.18,51.99 445.34,53.89 445.5,48.9 445.66,50.09 445.82,51.99 445.98,49.89 446.14,51.36 446.3,50.83 446.46,49.23 446.62,51.79 446.78,51.27 446.94,49.76 447.1,50.44 447.26,49.86 447.42,48.76 447.58,49.06 447.74,51.65 447.9,48.36 448.06,49.16 448.22,48.38 448.38,48.51 448.54,51.01 448.7,52.08 448.86,49.4 449.02,51.27 449.18,49.61 449.34,50.52 449.5,48.56 449.66,47.79 449.82,51.15 449.98,49.85 450.14,49.68 450.3,50.28 450.46,50.86 450.62,49.5 450.78,50.86 450.94,48.63 451.1,51.38 451.26,50.6 451.42,50.5 451.58,49.55 451.74,50.26 451.9,49.39 452.06,50.57 452.22,48.68 452.38,49.5 452.54,49.31 452.7,51.37 452.86,50.26 453.02,49.2 453.18,55.68 453.34,48.3 453.5,51.3 453.66,48.07 453.82,49.74 453.98,49.62 454.14,50.79 454.3,49.22 454.46,48.47 454.62,49.13 454.78,48.14 454.94,53.1 455.1,54.24 455.26,49.23 455.42,49 455.58,48.56 455.74,51.12 455.9,48.57 456.06,49.2 456.22,48.28 456.38,50.69 456.54,49.51 456.7,48.67 456.86,49.12 457.02,50.76 457.18,49.55 457.34,49.84 457.5,50.84 457.66,50.91 457.82,49.28 457.98,49.47 458.14,48.03 458.3,49 458.46,49.08 458.62,49.53 458.78,50.32 458.94,51.24 459.1,48.31 459.26,51.18 459.42,48.62 459.58,52.02 459.74,51.36 459.9,49.03 460.06,48.69 460.22,50.8 460.38,48.75 460.54,50.87 460.7,51.21 460.86,50.86 461.02,51.23 461.18,51.06 461.34,50.6 461.5,50.77 461.66,51.23 461.82,49.25 461.98,48.86 462.14,48.61 462.3,48.9 462.46,50.05 462.62,59.09 462.78,49.97 462.94,50.61 463.1,49.71 463.26,51.56 463.42,50.55 463.58,48.66 463.74,50.72 463.9,49.63 464.06,50.2 464.22,57.7 464.38,50.58 464.54,51.32 464.7,50.14 464.86,51.06 465.02,50.04 465.18,50.42 465.34,49.64 465.5,49.99 465.66,49.6 465.82,51.73 465.98,51.23 466.14,49.83 466.3,50.7 466.46,58.06 466.62,51.73 466.78,49.14 466.94,49.03 467.1,52 467.26,51.2 467.42,52.07 467.58,51.16 467.74,51.47 467.9,51.46 468.06,51.46 468.22,51.84 468.38,59.33 468.54,52.46 468.7,50.62 468.86,52.12 469.02,50.3 469.18,50.92 469.34,50.99 469.5,57.44 469.66,49.65 469.82,52.51 469.98,52.96 470.14,49.65 470.3,51.84 470.46,53.35 470.62,51.25 470.78,52.18 470.94,54.09 471.1,52.42 471.26,53.57 471.42,53.25 471.58,49.93 471.74,50.86 471.9,50.67 472.06,53.07 472.22,53.45 472.38,50.35 472.54,52.95 472.7,53.93 472.86,54.11 473.02,57.44 473.18,53.6 473.34,51.51 473.5,50.92 473.66,52.33 473.82,51.86 473.98,52.21 474.14,50.97 474.3,51.96 474.46,53.18 474.62,52.17 474.78,54.69 474.94,53.12 475.1,51.05 475.26,53.85 475.42,52.38 475.58,55.12 475.74,53.65 475.9,53.03 476.06,52.91 476.22,53.87 476.38,54.74 476.54,51.73 476.7,53.42 476.86,54.99 477.02,52.2 477.18,55.13 477.34,54.34 477.5,55.43 477.66,54.91 477.82,53.8 477.98,54.62 478.14,53.47 478.3,56.1 478.46,55.06 478.62,54.67 478.78,54.05 478.94,55.92 479.1,53.51 479.26,55.97 479.42,55.32 479.58,56.5 479.74,55.01 479.9,53.93 480.06,53.91 480.22,54.66 480.38,54.85 480.54,53.82 480.7,57.44 480.86,53.66 481.02,56.66 481.18,55.87 481.34,58.28 481.5,57.78 481.66,55.48 481.82,54.45 481.98,55.26 482.14,56.95 482.3,57.89 482.46,53.38 482.62,54.07 482.78,53.44 482.94,57.33 483.1,57.67 483.26,53.5 483.42,55.05 483.58,57.64 483.74,55.79 483.9,57.57 484.06,54.98 484.22,53.92 484.38,57.64 484.54,53.37 484.7,54.76 484.86,57.17 485.02,53.41 485.18,56.27 485.34,57.44 485.5,53.82 485.66,57.18 485.82,54.46 485.98,56.37 486.14,54.54 486.3,53.71 486.46,53.89 486.62,53.78 486.78,53.25 486.94,53.98 487.1,56.89 487.26,56.88 487.42,56.68 487.58,54.93 487.74,56.78 487.9,55.59 488.06,54.45 488.22,54.96 488.38,53.65 488.54,53.3 488.7,55.18 488.86,56.36 489.02,54.59 489.18,54.04 489.34,54.25 489.5,54.82 489.66,56.34 489.82,56.59 489.98,56.25 490.14,53.69 490.3,53.95 490.46,53.61 490.62,56.49 490.78,56.22 490.94,53.87 491.1,53.01 491.26,53.85 491.42,52.82 491.58,53.97 491.74,52.74 491.9,54.59 492.06,54.24 492.22,53.45 492.38,53.15 492.54,55.36 492.7,53.31 492.86,52.91 493.02,54.36 493.18,53.4 493.34,55.18 493.5,54.78 493.66,53.05 493.82,54.26 493.98,53.1 494.14,54.09 494.3,55.92 494.46,53.1 494.62,54.69 494.78,54.03 494.94,55.94 495.1,53.78 495.26,58.94 495.42,54.79 495.58,53.77 495.74,56.07 495.9,54.5 496.06,54.74 496.22,53.76 496.38,56.64 496.54,55.28 496.7,62.11 496.86,54.45 497.02,54.11 497.18,57.59 497.34,56.05 497.5,53.99 497.66,55.74 497.82,56.17 497.98,56.71 498.14,54.25 498.3,55.65 498.46,55.04 498.62,55.46 498.78,56.05 498.94,54.78 499.1,56.58 499.26,56.85 499.42,55.61 499.58,56.96 499.74,55.72 499.9,56.84 500.06,55.36 500.22,55.95 500.38,57.03 500.54,57.07 500.7,54.91 500.86,57.35 501.02,55.38 501.18,56.37 501.34,56.05 501.5,55.76 501.66,54.66 501.82,57.03 501.98,56.89 502.14,56.52 502.3,60 502.46,55.11 502.62,55.09 502.78,56.58 502.94,54.97 503.1,55.35 503.26,54.98 503.42,55.74 503.58,55.57 503.74,55.36 503.9,55.21 504.06,54.51 504.22,54.44 504.38,54.96 504.54,54.6 504.7,55.16 504.86,55.24 505.02,55.26 505.18,55.33 505.34,54.98 505.5,54.8 505.66,54.35 505.82,54.79 505.98,57.16 506.14,55.4 506.3,54.86 506.46,54.34 506.62,54.35 506.78,54.06 506.94,55.54 507.1,53.8 507.26,54.6 507.42,53.8 507.58,55.84 507.74,53.82 507.9,54.3 508.06,54.99 508.22,55.57 508.38,55.34 508.54,55.41 508.7,55.5 508.86,55.93 509.02,60.09 509.18,54.87 509.34,56.17 509.5,54.26 509.66,55.9 509.82,54.07 509.98,54.35 510.14,53.68 510.3,54.71 510.46,53.74 510.62,55.93 510.78,54.2 510.94,53.57 511.1,54.76 511.26,52.52 511.42,53.5 511.58,55.7 511.74,52.74 511.9,56.67 512.06,54.08 512.22,55.46 512.38,53.7 512.54,53.49 512.7,54.04 512.86,52.59 513.02,52.44 513.18,53.6 513.34,51.23 513.5,52.27 513.66,52.8 513.82,54.11 513.98,52.05 514.14,53.91 514.3,52.12 514.46,50.75 514.62,53.38 514.78,51.67 514.94,52.8 515.1,52.41 515.26,52.48 515.42,50.06 515.58,51.03 515.74,49.94 515.9,51.13 516.06,50.2 516.22,50.9 516.38,50.14 516.54,49.73 516.7,48.78 516.86,50.95 517.02,50.35 517.18,49.78 517.34,49.06 517.5,49.62 517.66,49.6 517.82,48.37 517.98,49.8 518.14,48.11 518.3,48.99 518.46,49.07 518.62,53.7 518.78,48.18 518.94,48.13 519.1,47.83 519.26,49.05 519.42,47.78 519.58,47.74 519.74,48.61 519.9,48.61 520.06,47.86 520.22,46.7 520.38,48.24 520.54,48.29 520.7,47.05 520.86,48.35 521.02,48.29 521.18,47.08 521.34,46.66 521.5,48.03 521.66,47.81 521.82,46.39 521.98,46.37 522.14,46.55 522.3,46.09 522.46,46.67 522.62,45.86 522.78,47.63 522.94,46.18 523.1,46.22 523.26,45.55 523.42,46.26 523.58,47.14 523.74,45.97 523.9,45.55 524.06,47.36 524.22,45.52 524.38,46.98 524.54,47.58 524.7,47.53 524.86,45.48 525.02,45.17 525.18,45.52 525.34,46.41 525.5,45.46 525.66,45.36 525.82,45.11 525.98,46.22 526.14,46.81 526.3,46.49 526.46,45.57 526.62,44.99 526.78,46.93 526.94,46.43 527.1,46.16 527.26,45.99 527.42,44.91 527.58,45.3 527.74,46.47 527.9,45.7 528.06,46.56 528.22,46.74 528.38,50.34 528.54,46.25 528.7,45.66 528.86,46.29 529.02,46.6 529.18,46.1 529.34,44.96 529.5,46.29 529.66,44.79 529.82,45.04 529.98,45.33 530.14,44.77 530.3,45.99 530.46,46.38 530.62,46.11 530.78,45.54 530.94,49.03 531.1,46.16 531.26,44.75 531.42,45.81 531.58,45.12 531.74,46.11 531.9,46.31 532.06,44.81 532.22,45.34 532.38,46.09 532.54,44.8 532.7,45.36 532.86,45.79 533.02,46 533.18,45.36 533.34,45.74 533.5,45.43 533.66,44.82 533.82,44.68 533.98,45.83 534.14,45.42 534.3,45.54 534.46,44.96 534.62,45.11 534.78,44.88 534.94,44.79 535.1,45.53 535.26,44.93 535.42,45.21 535.58,45.07 535.74,45.81 535.9,45.36 536.06,45.71 536.22,45.63 536.38,45.5 536.54,45.21 536.7,45.72 536.86,44.96 537.02,44.84 537.18,44.94 537.34,45.52 537.5,44.7 537.66,45.19 537.82,44.77 537.98,44.55 538.14,45.57 538.3,45.52 538.46,45.31 538.62,45.2 538.78,44.78 538.94,44.52 539.1,45.4 539.26,45.8 539.42,44.85 539.58,44.69 539.74,45.57 539.9,44.9 540.06,45.37 540.22,45.77 540.38,45.57 540.54,45.51 540.7,44.73 540.86,44.92 541.02,45.23 541.18,45.61 541.34,44.52 541.5,45.33 541.66,45.43 541.82,45.75 541.98,45.14 542.14,44.86 542.3,44.56 542.46,44.67 542.62,45.77 542.78,44.49 542.94,44.69 543.1,44.43 543.26,45.6 543.42,45.01 543.58,45.33 543.74,44.99 543.9,45.01 544.06,45.54 544.22,44.63 544.38,45.01 544.54,44.87 544.7,44.51 544.86,45.02 545.02,45.63 545.18,45.72 545.34,45.23 545.5,44.46 545.66,45.21 545.82,45.15 545.98,45.02 546.14,44.77 546.3,45.57 546.46,44.62 546.62,44.96 546.78,45.25 546.94,45.14 547.1,45.07 547.26,44.88 547.42,44.59 547.58,45.08 547.74,45.5 547.9,44.46 548.06,44.67 548.22,45.07 548.38,45.1 548.54,45.01 548.7,44.42 548.86,44.41 549.02,45.47 549.18,45.27 549.34,44.46 549.5,45.27 549.66,45.41 549.82,44.52 549.98,45.05 550.14,44.47 550.3,44.36 550.46,44.78 550.62,45.07 550.78,44.68 550.94,44.84 551.1,45.1 551.26,45.02 551.42,45.43 551.58,45.26 551.74,45.28 551.9,45.36 552.06,44.75 552.22,45.51 552.38,44.3 552.54,44.37 552.7,45.31 552.86,45.47 553.02,44.57 553.18,44.82 553.34,45 553.5,44.24 553.66,45.28 553.82,44.95 553.98,45.12 554.14,44.4 554.3,44.92 554.46,45.27 554.62,44.21 554.78,44.39 554.94,45.35 555.1,44.23 555.26,45.27 555.42,44.7 555.58,44.38 555.74,44.69 555.9,44.98 556.06,44.6 556.22,45.35 556.38,44.22 556.54,44.63 556.7,44.92 556.86,47.07 557.02,44.59 557.18,44.75 557.34,44.2 557.5,45.02 557.66,44.49 557.82,44.47 557.98,44.82 558.14,45.43 558.3,44.86 558.46,45.27 558.62,44.95 558.78,44.59 558.94,45.15 559.1,45.34 559.26,44.5 559.42,45.07 559.58,44.93 559.74,44.81 559.9,44.17 560.06,44.51 560.22,44.71 560.38,44.4 560.54,44.53 560.7,44.08 560.86,44.66 561.02,44.81 561.18,44.28 561.34,44.45 561.5,45 561.66,45.28 561.82,45.25 561.98,44.15 562.14,44.8 562.3,44.5 562.46,44.59 562.62,44.12 562.78,45.2 562.94,44.36 563.1,44.23 563.26,44.93 563.42,44.53 563.58,44.8 563.74,44.85 563.9,44.96 564.06,44.78 564.22,45.05 564.38,44.44 564.54,44.24 564.7,45.13 564.86,45.19 565.02,44.41 565.18,44.83 565.34,44.86 565.5,44.05 565.66,44.04 565.82,44.41 565.98,44.75 566.14,44.57 566.3,45.16 566.46,45.24 566.62,44.76 566.78,44.38 566.94,44.16 567.1,44.95 567.26,45 567.42,44.65 567.58,44.66 567.74,44.72 567.9,44.9 568.06,44.86 568.22,44.94 568.38,44.93 568.54,44.52 568.7,44.6 568.86,44.1 569.02,44.54 569.18,44.92 569.34,45.19 569.5,44.89 569.66,43.95 569.82,43.99 569.98,44.62 570.14,45.12 570.3,44.1 570.46,44.85 570.62,44.11 570.78,44.9 570.94,45.16 571.1,44.71 571.26,44.92 571.42,44.3 571.58,44.02 571.74,43.97 571.9,44.4 572.06,43.95 572.22,44.4 572.38,45.08 572.54,44.16 572.7,44.2 572.86,44.16 573.02,44.84 573.18,44.24 573.34,44.14 573.5,44.06 573.66,44.97 573.82,44.81 573.98,44.21 574.14,44.47 574.3,44.05 574.46,44.6 574.62,44.58 574.78,44.1 574.94,44.29 575.1,44.93 575.26,44.93 575.42,44.21 575.58,43.97 575.74,43.83 575.9,44.01 576.06,43.94 576.22,44.68 576.38,44.24 576.54,44.72 576.7,45.05 576.86,44.1 577.02,44.68 577.18,44.44 577.34,44.34 577.5,43.82 577.66,44.19 577.82,43.94 577.98,43.96 578.14,44.01 578.3,43.97 578.46,44.41 578.62,44.23 578.78,44.94 578.94,44.04 579.1,44.89 579.26,44.11 579.42,44.1 579.58,43.82 579.74,44.28 579.9,44.22 580.06,44.63 580.22,44.44 580.38,44.62 580.54,44.85 580.7,44.25 580.86,44.27 581.02,44.23 581.18,44.26 581.34,46.68 581.5,44.9 581.66,44.5 581.82,44.03 581.98,43.87 582.14,44.71 582.3,43.78 582.46,44.13 582.62,44.41 582.78,47.08 582.94,44.79 583.1,44.45 583.26,44 583.42,44.64 583.58,44.6 583.74,44.36 583.9,44.55 584.06,44.48 584.22,43.97 584.38,44.02 584.54,44.28 584.7,44.34 584.86,43.96 585.02,44.84 585.18,44.33 585.34,44.69 585.5,43.89 585.66,44.25 585.82,44.7 585.98,44.75 586.14,44.14 586.3,44.68 586.46,43.85 586.62,43.78 586.78,44.66 586.94,44.22 587.1,44.14 587.26,44.51 587.42,44.24 587.58,44.59 587.74,44.49 587.9,44.28 588.06,44.09 588.22,44.11 588.38,43.88 588.54,43.7 588.7,44.52 588.86,44.02 589.02,44.66 589.18,44.41 589.34,43.86 589.5,44.6 589.66,44.07 589.82,44.16 589.98,44.49 590.14,44.11 590.3,44.61 590.46,44.07 590.62,44.74 590.78,44.8 590.94,44.05 591.1,43.99 591.26,44.52 591.42,44.23 591.58,44.7 591.74,43.61 591.9,44.15 592.06,44.61 592.22,44.15 592.38,44.11 592.54,44.2 592.7,44.39 592.86,44.06 593.02,44.4 593.18,44.5 593.34,43.7 593.5,43.64 593.66,43.67 593.82,44.47 593.98,43.61 594.14,44.42 594.3,43.6 594.46,44.05 594.62,44.76 594.78,44.6 594.94,43.94 595.1,43.53 595.26,43.86 595.42,43.9 595.58,44.57 595.74,44.14 595.9,43.57 596.06,44.58 596.22,44.56 596.38,43.75 596.54,44.16 596.7,44.07 596.86,44.21 597.02,44.48 597.18,44.62 597.34,43.55 597.5,44.14 597.66,44.18 597.82,43.82 597.98,43.84 598.14,44.46 598.3,44.03 598.46,44.02 598.62,43.54 598.78,44.25 598.94,44.52 599.1,44.19 599.26,44.59 599.42,44.44 599.58,44.28 599.74,43.81 599.9,44.47 600.06,44.57 600.22,43.57 600.38,44.4 600.54,43.95 600.7,43.75 600.86,44.27 601.02,43.5 601.18,43.48 601.34,43.79 601.5,44.13 601.66,44.11 601.82,44.53 601.98,44.44 602.14,44.39 602.3,43.89 602.46,43.87 602.62,43.68 602.78,43.52 602.94,44.29 603.1,44.23 603.26,44.4 603.42,44.52 603.58,44.53 603.74,43.74 603.9,44.3 604.06,44.51 604.22,43.97 604.38,44.11 604.54,43.49 604.7,43.71 604.86,44.4 605.02,44.49 605.18,44.09 605.34,43.78 605.5,44.16 605.66,43.76 605.82,43.66 605.98,43.57 606.14,43.71 606.3,44.03 606.46,44.02 606.62,44.07 606.78,43.39 606.94,43.46 607.1,43.5 607.26,43.76 607.42,44.13 607.58,43.54 607.74,43.73 607.9,44.38 608.06,43.5 608.22,44.38 608.38,43.92 608.54,43.46 608.7,43.51 608.86,43.92 609.02,43.55 609.18,43.55 609.34,43.59 609.5,43.91 609.66,43.32" fill="none" stroke="#e6874f" stroke-width="0.8" stroke-linejoin="round"/>
<rect x="394.7" y="27.4" width="224.00000000000006" height="145.0" fill="none" stroke="#222" stroke-width="1.15"/>
<line x1="391.9" y1="32.6" x2="394.8" y2="32.6" stroke="#555" stroke-width="0.7"/>
<text x="389.6" y="36.5" font-size="10.9" text-anchor="end" fill="#000" style="font-family:'Liberation Sans'">1.0</text>
<line x1="391.9" y1="98.8" x2="394.8" y2="98.8" stroke="#555" stroke-width="0.7"/>
<text x="389.6" y="102.7" font-size="10.9" text-anchor="end" fill="#000" style="font-family:'Liberation Sans'">0.5</text>
<line x1="391.9" y1="165.5" x2="394.8" y2="165.5" stroke="#555" stroke-width="0.7"/>
<text x="389.6" y="169.4" font-size="10.9" text-anchor="end" fill="#000" style="font-family:'Liberation Sans'">0.0</text>
<text x="464.1" y="187.4" font-size="10.9" text-anchor="middle" fill="#000" style="font-family:'Liberation Sans'">500</text>
<text x="537.5" y="187.4" font-size="10.9" text-anchor="middle" fill="#000" style="font-family:'Liberation Sans'">1000</text>
<text x="610.9" y="187.4" font-size="10.9" text-anchor="middle" fill="#000" style="font-family:'Liberation Sans'">1500</text>
<rect x="400.3" y="132.4" width="64.3" height="34.9" rx="2" fill="#fff" fill-opacity="0.8" stroke="#d9d9d9" stroke-width="0.8"/>
<line x1="404.3" y1="140.6" x2="426.7" y2="140.6" stroke="#4571c0" stroke-width="1.6" stroke-opacity="0.7"/>
<line x1="404.3" y1="156.9" x2="426.7" y2="156.9" stroke="#e6874f" stroke-width="1.6" stroke-opacity="0.7"/>
<path d="M565,100.6 Q593.4,78.9 600.1,46.5" fill="none" stroke="#d81e63" stroke-width="1"/>
<path d="M598.6,48.6 L600.3,44.6 L601.5,48.8 Z" fill="#d81e63"/>
<line x1="32.2" y1="474.1" x2="37.8" y2="474.1" stroke="#000" stroke-width="1.2"/>
<text x="29.6" y="479.9" font-size="16.2" text-anchor="end" fill="#000" style="font-family:'Liberation Sans'">0</text>
<line x1="32.2" y1="406.9" x2="37.8" y2="406.9" stroke="#000" stroke-width="1.2"/>
<text x="29.6" y="412.7" font-size="16.2" text-anchor="end" fill="#000" style="font-family:'Liberation Sans'">2</text>
<line x1="32.2" y1="339.7" x2="37.8" y2="339.7" stroke="#000" stroke-width="1.2"/>
<text x="29.6" y="345.5" font-size="16.2" text-anchor="end" fill="#000" style="font-family:'Liberation Sans'">4</text>
<line x1="32.2" y1="272.4" x2="37.8" y2="272.4" stroke="#000" stroke-width="1.2"/>
<text x="29.6" y="278.2" font-size="16.2" text-anchor="end" fill="#000" style="font-family:'Liberation Sans'">6</text>
<line x1="49.3" y1="484.3" x2="49.3" y2="489.6" stroke="#000" stroke-width="1.2"/>
<text x="49.3" y="504.6" font-size="16.2" text-anchor="middle" fill="#000" style="font-family:'Liberation Sans'">0</text>
<line x1="126.1" y1="484.3" x2="126.1" y2="489.6" stroke="#000" stroke-width="1.2"/>
<text x="126.1" y="504.6" font-size="16.2" text-anchor="middle" fill="#000" style="font-family:'Liberation Sans'">2</text>
<line x1="202.9" y1="484.3" x2="202.9" y2="489.6" stroke="#000" stroke-width="1.2"/>
<text x="202.9" y="504.6" font-size="16.2" text-anchor="middle" fill="#000" style="font-family:'Liberation Sans'">4</text>
<line x1="279.7" y1="484.3" x2="279.7" y2="489.6" stroke="#000" stroke-width="1.2"/>
<text x="279.7" y="504.6" font-size="16.2" text-anchor="middle" fill="#000" style="font-family:'Liberation Sans'">6</text>
<line x1="394.2" y1="474.1" x2="399.8" y2="474.1" stroke="#000" stroke-width="1.2"/>
<text x="391.2" y="479.9" font-size="16.2" text-anchor="end" fill="#000" style="font-family:'Liberation Sans'">0</text>
<line x1="394.2" y1="406.9" x2="399.8" y2="406.9" stroke="#000" stroke-width="1.2"/>
<text x="391.2" y="412.7" font-size="16.2" text-anchor="end" fill="#000" style="font-family:'Liberation Sans'">2</text>
<line x1="394.2" y1="339.7" x2="399.8" y2="339.7" stroke="#000" stroke-width="1.2"/>
<text x="391.2" y="345.5" font-size="16.2" text-anchor="end" fill="#000" style="font-family:'Liberation Sans'">4</text>
<line x1="394.2" y1="272.4" x2="399.8" y2="272.4" stroke="#000" stroke-width="1.2"/>
<text x="391.2" y="278.2" font-size="16.2" text-anchor="end" fill="#000" style="font-family:'Liberation Sans'">6</text>
<line x1="410.9" y1="484.3" x2="410.9" y2="489.6" stroke="#000" stroke-width="1.2"/>
<text x="410.9" y="504.6" font-size="16.2" text-anchor="middle" fill="#000" style="font-family:'Liberation Sans'">0</text>
<line x1="487.9" y1="484.3" x2="487.9" y2="489.6" stroke="#000" stroke-width="1.2"/>
<text x="487.9" y="504.6" font-size="16.2" text-anchor="middle" fill="#000" style="font-family:'Liberation Sans'">2</text>
<line x1="564.9" y1="484.3" x2="564.9" y2="489.6" stroke="#000" stroke-width="1.2"/>
<text x="564.9" y="504.6" font-size="16.2" text-anchor="middle" fill="#000" style="font-family:'Liberation Sans'">4</text>
<line x1="641.9" y1="484.3" x2="641.9" y2="489.6" stroke="#000" stroke-width="1.2"/>
<text x="641.9" y="504.6" font-size="16.2" text-anchor="middle" fill="#000" style="font-family:'Liberation Sans'">6</text>
<clipPath id="ccl"><rect x="37.7" y="272.3" width="242.10000000000002" height="211.89999999999998"/></clipPath>
<clipPath id="cdl"><rect x="399.8" y="272.6" width="241.90000000000003" height="211.59999999999997"/></clipPath>
<g clip-path="url(#ccl)" stroke="#000" stroke-width="0.75" fill-opacity="0.8" stroke-opacity="0.8">
<g fill="#6495ed">
<circle cx="94.2" cy="395.3" r="2.15"/>
<circle cx="101.9" cy="406.1" r="2.15"/>
<circle cx="91.2" cy="431.8" r="2.15"/>
<circle cx="76.6" cy="440.2" r="2.15"/>
<circle cx="70.1" cy="448.7" r="2.15"/>
<circle cx="40.3" cy="477.8" r="2.15"/>
<circle cx="40.1" cy="480.5" r="2.15"/>
<circle cx="106.3" cy="417.6" r="2.15"/>
<circle cx="107.3" cy="419.2" r="2.15"/>
<circle cx="110.3" cy="409.1" r="2.15"/>
<circle cx="111.9" cy="413.1" r="2.15"/>
<circle cx="115.3" cy="394.1" r="2.15"/>
<circle cx="115.3" cy="405.1" r="2.15"/>
<circle cx="116.3" cy="410.1" r="2.15"/>
<circle cx="106.0" cy="368.3" r="2.15"/>
<circle cx="110.6" cy="369.3" r="2.15"/>
<circle cx="110.1" cy="376.3" r="2.15"/>
<circle cx="133.9" cy="360.5" r="2.15"/>
<circle cx="131.4" cy="364.5" r="2.15"/>
<circle cx="138.3" cy="361.1" r="2.15"/>
<circle cx="123.6" cy="378.5" r="2.15"/>
<circle cx="127.7" cy="374.8" r="2.15"/>
<circle cx="129.6" cy="373.5" r="2.15"/>
<circle cx="133.9" cy="372.0" r="2.15"/>
<circle cx="137.0" cy="373.5" r="2.15"/>
<circle cx="129.3" cy="382.0" r="2.15"/>
<circle cx="127.7" cy="388.8" r="2.15"/>
<circle cx="134.5" cy="388.4" r="2.15"/>
<circle cx="137.0" cy="384.1" r="2.15"/>
<circle cx="131.4" cy="394.7" r="2.15"/>
<circle cx="118.4" cy="398.4" r="2.15"/>
<circle cx="119.6" cy="402.1" r="2.15"/>
<circle cx="113.4" cy="404.0" r="2.15"/>
<circle cx="127.1" cy="401.5" r="2.15"/>
<circle cx="43.1" cy="363.7" r="2.15"/>
<circle cx="143.4" cy="440.2" r="2.15"/>
<circle cx="138.2" cy="357.4" r="2.15"/>
<circle cx="141.6" cy="358.5" r="2.15"/>
<circle cx="144.3" cy="361.6" r="2.15"/>
<circle cx="150.2" cy="359.7" r="2.15"/>
<circle cx="152.5" cy="357.7" r="2.15"/>
<circle cx="147.8" cy="364.3" r="2.15"/>
<circle cx="149.0" cy="366.6" r="2.15"/>
<circle cx="142.8" cy="369.7" r="2.15"/>
<circle cx="146.7" cy="369.0" r="2.15"/>
<circle cx="128.5" cy="373.2" r="2.15"/>
<circle cx="126.2" cy="375.5" r="2.15"/>
<circle cx="147.4" cy="371.7" r="2.15"/>
<circle cx="151.3" cy="368.6" r="2.15"/>
<circle cx="153.6" cy="367.4" r="2.15"/>
<circle cx="155.6" cy="363.5" r="2.15"/>
<circle cx="159.1" cy="361.6" r="2.15"/>
<circle cx="161.4" cy="363.9" r="2.15"/>
<circle cx="159.1" cy="366.3" r="2.15"/>
<circle cx="163.7" cy="367.4" r="2.15"/>
<circle cx="165.2" cy="363.5" r="2.15"/>
<circle cx="168.3" cy="361.6" r="2.15"/>
<circle cx="171.4" cy="360.1" r="2.15"/>
<circle cx="173.0" cy="357.7" r="2.15"/>
<circle cx="169.9" cy="365.5" r="2.15"/>
<circle cx="166.8" cy="370.1" r="2.15"/>
<circle cx="156.0" cy="371.3" r="2.15"/>
<circle cx="159.1" cy="372.4" r="2.15"/>
<circle cx="162.2" cy="371.7" r="2.15"/>
<circle cx="152.9" cy="374.0" r="2.15"/>
<circle cx="149.8" cy="377.1" r="2.15"/>
<circle cx="145.9" cy="374.8" r="2.15"/>
<circle cx="141.3" cy="375.5" r="2.15"/>
<circle cx="143.6" cy="373.2" r="2.15"/>
<circle cx="156.0" cy="376.7" r="2.15"/>
<circle cx="159.8" cy="375.5" r="2.15"/>
<circle cx="164.5" cy="377.9" r="2.15"/>
<circle cx="140.5" cy="381.0" r="2.15"/>
<circle cx="145.1" cy="378.6" r="2.15"/>
<circle cx="150.5" cy="380.2" r="2.15"/>
<circle cx="154.4" cy="381.0" r="2.15"/>
<circle cx="157.5" cy="382.5" r="2.15"/>
<circle cx="160.2" cy="385.2" r="2.15"/>
<circle cx="147.4" cy="384.1" r="2.15"/>
<circle cx="142.8" cy="383.3" r="2.15"/>
<circle cx="140.5" cy="387.2" r="2.15"/>
<circle cx="145.9" cy="387.9" r="2.15"/>
<circle cx="153.6" cy="388.3" r="2.15"/>
<circle cx="159.1" cy="387.9" r="2.15"/>
<circle cx="172.2" cy="381.7" r="2.15"/>
<circle cx="158.3" cy="359.3" r="2.15"/>
<circle cx="113.9" cy="405.2" r="2.15"/>
<circle cx="117.4" cy="405.2" r="2.15"/>
<circle cx="120.9" cy="405.5" r="2.15"/>
<circle cx="118.6" cy="414.1" r="2.15"/>
<circle cx="120.5" cy="416.0" r="2.15"/>
<circle cx="129.4" cy="403.2" r="2.15"/>
<circle cx="128.3" cy="407.5" r="2.15"/>
<circle cx="132.5" cy="406.3" r="2.15"/>
<circle cx="130.2" cy="394.3" r="2.15"/>
<circle cx="131.0" cy="396.6" r="2.15"/>
<circle cx="134.1" cy="395.5" r="2.15"/>
<circle cx="136.4" cy="396.3" r="2.15"/>
<circle cx="142.2" cy="401.3" r="2.15"/>
<circle cx="137.9" cy="387.0" r="2.15"/>
<circle cx="138.7" cy="384.6" r="2.15"/>
<circle cx="141.8" cy="387.7" r="2.15"/>
<circle cx="144.9" cy="384.6" r="2.15"/>
<circle cx="146.4" cy="389.3" r="2.15"/>
<circle cx="140.2" cy="391.6" r="2.15"/>
<circle cx="143.3" cy="392.8" r="2.15"/>
<circle cx="147.2" cy="392.4" r="2.15"/>
<circle cx="148.0" cy="382.3" r="2.15"/>
<circle cx="137.2" cy="393.2" r="2.15"/>
<circle cx="126.1" cy="401.2" r="2.15"/>
<circle cx="129.8" cy="404.3" r="2.15"/>
<circle cx="128.6" cy="396.2" r="2.15"/>
<circle cx="133.5" cy="396.9" r="2.15"/>
<circle cx="160.2" cy="403.1" r="2.15"/>
<circle cx="160.9" cy="414.3" r="2.15"/>
<circle cx="166.5" cy="395.0" r="2.15"/>
<circle cx="226.8" cy="358.6" r="2.15"/>
<circle cx="203.6" cy="357.7" r="2.15"/>
<circle cx="187.2" cy="359.5" r="2.15"/>
<circle cx="177.7" cy="365.5" r="2.15"/>
<circle cx="182.0" cy="368.1" r="2.15"/>
<circle cx="188.1" cy="367.2" r="2.15"/>
<circle cx="196.7" cy="364.6" r="2.15"/>
<circle cx="199.3" cy="367.6" r="2.15"/>
<circle cx="185.5" cy="374.1" r="2.15"/>
<circle cx="173.4" cy="381.5" r="2.15"/>
<circle cx="178.6" cy="387.9" r="2.15"/>
<circle cx="198.9" cy="384.1" r="2.15"/>
<circle cx="206.1" cy="384.1" r="2.15"/>
<circle cx="219.1" cy="397.3" r="2.15"/>
<circle cx="218.2" cy="399.9" r="2.15"/>
<circle cx="217.8" cy="402.5" r="2.15"/>
<circle cx="210.4" cy="408.0" r="2.15"/>
<circle cx="195.2" cy="358.9" r="2.15"/>
<circle cx="178.9" cy="357.4" r="2.15"/>
<circle cx="152.3" cy="363.6" r="2.15"/>
<circle cx="159.8" cy="362.4" r="2.15"/>
<circle cx="163.5" cy="361.1" r="2.15"/>
<circle cx="167.2" cy="358.7" r="2.15"/>
<circle cx="172.2" cy="359.3" r="2.15"/>
<circle cx="190.8" cy="358.7" r="2.15"/>
<circle cx="194.5" cy="358.0" r="2.15"/>
<circle cx="131.2" cy="392.8" r="2.15"/>
<circle cx="128.7" cy="399.7" r="2.15"/>
<circle cx="132.4" cy="398.4" r="2.15"/>
<circle cx="120.6" cy="399.7" r="2.15"/>
<circle cx="122.5" cy="403.4" r="2.15"/>
<circle cx="127.5" cy="403.4" r="2.15"/>
<circle cx="147.3" cy="367.4" r="2.15"/>
<circle cx="149.8" cy="371.1" r="2.15"/>
<circle cx="157.3" cy="366.7" r="2.15"/>
<circle cx="161.0" cy="366.1" r="2.15"/>
<circle cx="168.4" cy="366.1" r="2.15"/>
<circle cx="154.8" cy="371.1" r="2.15"/>
<circle cx="158.5" cy="370.5" r="2.15"/>
<circle cx="165.3" cy="371.7" r="2.15"/>
<circle cx="144.8" cy="374.8" r="2.15"/>
<circle cx="148.6" cy="374.8" r="2.15"/>
<circle cx="152.3" cy="376.1" r="2.15"/>
<circle cx="163.5" cy="374.8" r="2.15"/>
<circle cx="141.1" cy="378.5" r="2.15"/>
<circle cx="153.5" cy="379.2" r="2.15"/>
<circle cx="157.3" cy="379.8" r="2.15"/>
<circle cx="161.0" cy="379.2" r="2.15"/>
<circle cx="139.9" cy="382.3" r="2.15"/>
<circle cx="143.6" cy="382.3" r="2.15"/>
<circle cx="151.1" cy="382.3" r="2.15"/>
<circle cx="154.8" cy="382.9" r="2.15"/>
<circle cx="158.5" cy="382.3" r="2.15"/>
<circle cx="137.4" cy="386.0" r="2.15"/>
<circle cx="141.1" cy="386.0" r="2.15"/>
<circle cx="148.6" cy="385.4" r="2.15"/>
<circle cx="152.3" cy="384.8" r="2.15"/>
<circle cx="156.0" cy="384.8" r="2.15"/>
<circle cx="138.6" cy="389.1" r="2.15"/>
<circle cx="142.4" cy="388.5" r="2.15"/>
<circle cx="159.8" cy="389.1" r="2.15"/>
<circle cx="132.4" cy="392.2" r="2.15"/>
<circle cx="136.1" cy="392.2" r="2.15"/>
<circle cx="137.4" cy="395.9" r="2.15"/>
<circle cx="129.9" cy="399.7" r="2.15"/>
<circle cx="133.7" cy="399.7" r="2.15"/>
<circle cx="160.5" cy="357.8" r="2.15"/>
<circle cx="163.2" cy="359.6" r="2.15"/>
<circle cx="166.0" cy="358.2" r="2.15"/>
<circle cx="169.5" cy="359.9" r="2.15"/>
<circle cx="175.5" cy="358.6" r="2.15"/>
<circle cx="181.5" cy="358.2" r="2.15"/>
<circle cx="184.4" cy="360.6" r="2.15"/>
<circle cx="191.5" cy="360.2" r="2.15"/>
<circle cx="198.2" cy="359.2" r="2.15"/>
<circle cx="161.8" cy="361.8" r="2.15"/>
<circle cx="157.2" cy="358.4" r="2.15"/>
</g><g fill="#e0108c">
<circle cx="129.3" cy="356.6" r="2.15"/>
<circle cx="134.3" cy="356.8" r="2.15"/>
<circle cx="141.6" cy="355.0" r="2.15"/>
<circle cx="255.6" cy="355.1" r="2.15"/>
<circle cx="258.7" cy="355.1" r="2.15"/>
<circle cx="157.5" cy="355.3" r="2.15"/>
<circle cx="157.5" cy="355.3" r="2.15"/>
<circle cx="160.1" cy="355.6" r="2.15"/>
<circle cx="160.1" cy="355.6" r="2.15"/>
<circle cx="162.5" cy="355.3" r="2.15"/>
<circle cx="162.5" cy="355.3" r="2.15"/>
<circle cx="165.2" cy="355.0" r="2.15"/>
<circle cx="165.2" cy="355.0" r="2.15"/>
<circle cx="167.7" cy="355.4" r="2.15"/>
<circle cx="167.7" cy="355.4" r="2.15"/>
<circle cx="170.8" cy="355.0" r="2.15"/>
<circle cx="170.8" cy="355.0" r="2.15"/>
<circle cx="172.9" cy="355.0" r="2.15"/>
<circle cx="172.9" cy="355.0" r="2.15"/>
<circle cx="176.0" cy="355.5" r="2.15"/>
<circle cx="176.0" cy="355.5" r="2.15"/>
<circle cx="177.6" cy="355.7" r="2.15"/>
<circle cx="177.6" cy="355.7" r="2.15"/>
<circle cx="181.0" cy="355.4" r="2.15"/>
<circle cx="181.0" cy="355.4" r="2.15"/>
<circle cx="183.7" cy="355.0" r="2.15"/>
<circle cx="183.7" cy="355.0" r="2.15"/>
<circle cx="185.3" cy="355.3" r="2.15"/>
<circle cx="185.3" cy="355.3" r="2.15"/>
<circle cx="187.0" cy="355.1" r="2.15"/>
<circle cx="187.0" cy="355.1" r="2.15"/>
<circle cx="189.0" cy="354.9" r="2.15"/>
<circle cx="189.0" cy="354.9" r="2.15"/>
<circle cx="191.5" cy="355.3" r="2.15"/>
<circle cx="191.5" cy="355.3" r="2.15"/>
<circle cx="194.6" cy="355.3" r="2.15"/>
<circle cx="194.6" cy="355.3" r="2.15"/>
<circle cx="197.3" cy="355.3" r="2.15"/>
<circle cx="197.3" cy="355.3" r="2.15"/>
<circle cx="200.1" cy="355.3" r="2.15"/>
<circle cx="200.1" cy="355.3" r="2.15"/>
<circle cx="202.2" cy="355.7" r="2.15"/>
<circle cx="202.2" cy="355.7" r="2.15"/>
<circle cx="205.6" cy="355.6" r="2.15"/>
<circle cx="205.6" cy="355.6" r="2.15"/>
<circle cx="208.5" cy="355.2" r="2.15"/>
<circle cx="208.5" cy="355.2" r="2.15"/>
<circle cx="210.5" cy="355.1" r="2.15"/>
<circle cx="210.5" cy="355.1" r="2.15"/>
<circle cx="212.2" cy="355.5" r="2.15"/>
<circle cx="212.2" cy="355.5" r="2.15"/>
<circle cx="214.6" cy="355.6" r="2.15"/>
<circle cx="214.6" cy="355.6" r="2.15"/>
<circle cx="216.9" cy="355.7" r="2.15"/>
<circle cx="216.9" cy="355.7" r="2.15"/>
<circle cx="220.0" cy="354.9" r="2.15"/>
<circle cx="220.0" cy="354.9" r="2.15"/>
<circle cx="222.0" cy="355.6" r="2.15"/>
<circle cx="222.0" cy="355.6" r="2.15"/>
<circle cx="224.4" cy="355.7" r="2.15"/>
<circle cx="224.4" cy="355.7" r="2.15"/>
<circle cx="226.7" cy="355.0" r="2.15"/>
<circle cx="226.7" cy="355.0" r="2.15"/>
<circle cx="229.5" cy="355.5" r="2.15"/>
<circle cx="229.5" cy="355.5" r="2.15"/>
<circle cx="231.5" cy="355.0" r="2.15"/>
<circle cx="231.5" cy="355.0" r="2.15"/>
<circle cx="233.7" cy="355.7" r="2.15"/>
<circle cx="233.7" cy="355.7" r="2.15"/>
<circle cx="236.7" cy="355.0" r="2.15"/>
<circle cx="236.7" cy="355.0" r="2.15"/>
<circle cx="238.8" cy="355.0" r="2.15"/>
<circle cx="238.8" cy="355.0" r="2.15"/>
<circle cx="240.5" cy="355.5" r="2.15"/>
<circle cx="240.5" cy="355.5" r="2.15"/>
</g></g>
<g clip-path="url(#cdl)" stroke="#000" stroke-width="0.75" fill="#6495ed" fill-opacity="0.8" stroke-opacity="0.8">
<circle cx="424.9" cy="401.6" r="2.15"/>
<circle cx="441.6" cy="400.6" r="2.15"/>
<circle cx="446.1" cy="402.4" r="2.15"/>
<circle cx="455.4" cy="413.1" r="2.15"/>
<circle cx="474.8" cy="375.4" r="2.15"/>
<circle cx="471.6" cy="411.9" r="2.15"/>
<circle cx="437.4" cy="472.2" r="2.15"/>
<circle cx="439.9" cy="472.2" r="2.15"/>
<circle cx="478.6" cy="472.2" r="2.15"/>
<circle cx="488.0" cy="472.2" r="2.15"/>
<circle cx="524.7" cy="469.0" r="2.15"/>
<circle cx="523.9" cy="456.5" r="2.15"/>
<circle cx="494.3" cy="451.0" r="2.15"/>
<circle cx="452.4" cy="461.5" r="2.15"/>
<circle cx="454.4" cy="457.7" r="2.15"/>
<circle cx="459.4" cy="456.0" r="2.15"/>
<circle cx="463.6" cy="452.3" r="2.15"/>
<circle cx="446.1" cy="451.0" r="2.15"/>
<circle cx="447.4" cy="445.3" r="2.15"/>
<circle cx="468.6" cy="441.0" r="2.15"/>
<circle cx="474.3" cy="443.5" r="2.15"/>
<circle cx="471.1" cy="437.3" r="2.15"/>
<circle cx="476.1" cy="429.8" r="2.15"/>
<circle cx="479.8" cy="432.3" r="2.15"/>
<circle cx="482.3" cy="438.5" r="2.15"/>
<circle cx="486.8" cy="436.0" r="2.15"/>
<circle cx="482.3" cy="421.1" r="2.15"/>
<circle cx="484.3" cy="427.3" r="2.15"/>
<circle cx="490.3" cy="424.8" r="2.15"/>
<circle cx="496.0" cy="427.3" r="2.15"/>
<circle cx="489.8" cy="418.6" r="2.15"/>
<circle cx="493.5" cy="394.9" r="2.15"/>
<circle cx="492.3" cy="413.6" r="2.15"/>
<circle cx="494.8" cy="414.9" r="2.15"/>
<circle cx="499.3" cy="418.6" r="2.15"/>
<circle cx="507.2" cy="419.3" r="2.15"/>
<circle cx="502.2" cy="374.0" r="2.15"/>
<circle cx="508.5" cy="372.0" r="2.15"/>
<circle cx="512.2" cy="361.2" r="2.15"/>
<circle cx="518.5" cy="363.7" r="2.15"/>
<circle cx="528.4" cy="363.0" r="2.15"/>
<circle cx="533.4" cy="356.2" r="2.15"/>
<circle cx="515.2" cy="376.9" r="2.15"/>
<circle cx="520.9" cy="441.0" r="2.15"/>
<circle cx="529.2" cy="441.0" r="2.15"/>
<circle cx="523.9" cy="415.3" r="2.15"/>
<circle cx="524.2" cy="421.1" r="2.15"/>
<circle cx="535.9" cy="409.1" r="2.15"/>
<circle cx="537.2" cy="417.3" r="2.15"/>
<circle cx="543.4" cy="401.1" r="2.15"/>
<circle cx="546.6" cy="393.2" r="2.15"/>
<circle cx="550.9" cy="419.3" r="2.15"/>
<circle cx="541.6" cy="432.8" r="2.15"/>
<circle cx="549.1" cy="431.6" r="2.15"/>
<circle cx="555.9" cy="397.4" r="2.15"/>
<circle cx="555.9" cy="389.9" r="2.15"/>
<circle cx="558.4" cy="381.2" r="2.15"/>
<circle cx="559.6" cy="374.5" r="2.15"/>
<circle cx="514.7" cy="413.6" r="2.15"/>
<circle cx="511.0" cy="411.9" r="2.15"/>
<circle cx="618.6" cy="300.6" r="2.15"/>
<circle cx="605.1" cy="312.9" r="2.15"/>
<circle cx="602.9" cy="318.3" r="2.15"/>
<circle cx="600.8" cy="323.8" r="2.15"/>
<circle cx="595.4" cy="319.4" r="2.15"/>
<circle cx="596.4" cy="324.8" r="2.15"/>
<circle cx="586.7" cy="347.6" r="2.15"/>
<circle cx="588.9" cy="337.9" r="2.15"/>
<circle cx="594.3" cy="369.3" r="2.15"/>
<circle cx="589.3" cy="371.4" r="2.15"/>
<circle cx="522.1" cy="340.0" r="2.15"/>
<circle cx="561.8" cy="369.3" r="2.15"/>
<circle cx="572.6" cy="353.0" r="2.15"/>
<circle cx="549.8" cy="350.9" r="2.15"/>
<circle cx="493.6" cy="396.1" r="2.15"/>
<circle cx="497.8" cy="406.1" r="2.15"/>
<circle cx="500.9" cy="401.8" r="2.15"/>
<circle cx="490.4" cy="410.3" r="2.15"/>
<circle cx="493.6" cy="408.2" r="2.15"/>
<circle cx="496.7" cy="410.3" r="2.15"/>
<circle cx="499.4" cy="409.2" r="2.15"/>
<circle cx="493.6" cy="413.4" r="2.15"/>
<circle cx="496.7" cy="415.5" r="2.15"/>
<circle cx="489.4" cy="417.6" r="2.15"/>
<circle cx="493.6" cy="418.7" r="2.15"/>
<circle cx="489.4" cy="421.8" r="2.15"/>
<circle cx="495.7" cy="422.9" r="2.15"/>
<circle cx="484.1" cy="421.8" r="2.15"/>
<circle cx="478.8" cy="425.0" r="2.15"/>
<circle cx="477.8" cy="430.3" r="2.15"/>
<circle cx="484.1" cy="430.8" r="2.15"/>
<circle cx="474.6" cy="433.9" r="2.15"/>
<circle cx="480.9" cy="433.9" r="2.15"/>
<circle cx="472.5" cy="438.2" r="2.15"/>
<circle cx="478.8" cy="437.6" r="2.15"/>
<circle cx="600.0" cy="320.5" r="2.15"/>
<circle cx="596.1" cy="323.1" r="2.15"/>
<circle cx="591.8" cy="323.5" r="2.15"/>
<circle cx="591.4" cy="326.5" r="2.15"/>
<circle cx="595.7" cy="326.1" r="2.15"/>
<circle cx="594.4" cy="329.5" r="2.15"/>
<circle cx="585.8" cy="326.9" r="2.15"/>
<circle cx="587.0" cy="329.5" r="2.15"/>
<circle cx="590.5" cy="330.0" r="2.15"/>
<circle cx="590.9" cy="332.5" r="2.15"/>
<circle cx="587.5" cy="333.8" r="2.15"/>
<circle cx="583.6" cy="333.4" r="2.15"/>
<circle cx="582.3" cy="336.8" r="2.15"/>
<circle cx="580.2" cy="335.1" r="2.15"/>
<circle cx="578.4" cy="337.7" r="2.15"/>
<circle cx="576.3" cy="336.8" r="2.15"/>
<circle cx="575.9" cy="342.9" r="2.15"/>
<circle cx="579.3" cy="339.4" r="2.15"/>
<circle cx="503.9" cy="375.7" r="2.15"/>
<circle cx="528.3" cy="375.7" r="2.15"/>
<circle cx="506.3" cy="385.8" r="2.15"/>
<circle cx="509.7" cy="384.3" r="2.15"/>
<circle cx="515.9" cy="382.4" r="2.15"/>
<circle cx="521.6" cy="384.3" r="2.15"/>
<circle cx="526.4" cy="381.0" r="2.15"/>
<circle cx="527.4" cy="385.3" r="2.15"/>
<circle cx="503.0" cy="392.5" r="2.15"/>
<circle cx="511.1" cy="389.1" r="2.15"/>
<circle cx="514.9" cy="390.6" r="2.15"/>
<circle cx="517.8" cy="389.1" r="2.15"/>
<circle cx="520.7" cy="388.2" r="2.15"/>
<circle cx="523.5" cy="389.1" r="2.15"/>
<circle cx="527.4" cy="390.6" r="2.15"/>
<circle cx="528.3" cy="393.9" r="2.15"/>
<circle cx="505.4" cy="398.2" r="2.15"/>
<circle cx="510.2" cy="401.1" r="2.15"/>
<circle cx="513.5" cy="396.8" r="2.15"/>
<circle cx="516.8" cy="394.4" r="2.15"/>
<circle cx="519.7" cy="395.3" r="2.15"/>
<circle cx="523.5" cy="397.7" r="2.15"/>
<circle cx="526.4" cy="394.9" r="2.15"/>
<circle cx="500.6" cy="400.6" r="2.15"/>
<circle cx="503.5" cy="404.4" r="2.15"/>
<circle cx="507.3" cy="404.4" r="2.15"/>
<circle cx="514.0" cy="402.5" r="2.15"/>
<circle cx="514.9" cy="405.9" r="2.15"/>
<circle cx="517.8" cy="401.5" r="2.15"/>
<circle cx="500.6" cy="409.2" r="2.15"/>
<circle cx="506.3" cy="408.2" r="2.15"/>
<circle cx="491.0" cy="408.2" r="2.15"/>
<circle cx="493.9" cy="410.2" r="2.15"/>
<circle cx="490.1" cy="412.1" r="2.15"/>
<circle cx="488.2" cy="416.8" r="2.15"/>
<circle cx="492.9" cy="416.8" r="2.15"/>
<circle cx="497.7" cy="417.8" r="2.15"/>
<circle cx="507.3" cy="418.3" r="2.15"/>
<circle cx="501.2" cy="373.6" r="2.15"/>
<circle cx="518.4" cy="365.0" r="2.15"/>
<circle cx="565.8" cy="392.0" r="2.15"/>
<circle cx="582.0" cy="395.1" r="2.15"/>
<circle cx="534.1" cy="394.0" r="2.15"/>
<circle cx="511.3" cy="398.7" r="2.15"/>
<circle cx="515.4" cy="396.7" r="2.15"/>
<circle cx="563.0" cy="352.6" r="2.15"/>
<circle cx="498.3" cy="404.6" r="2.15"/>
<circle cx="545.1" cy="364.6" r="2.15"/>
<circle cx="516.7" cy="385.1" r="2.15"/>
<circle cx="578.3" cy="342.5" r="2.15"/>
<circle cx="500.7" cy="401.5" r="2.15"/>
<circle cx="538.1" cy="370.9" r="2.15"/>
<circle cx="510.5" cy="401.5" r="2.15"/>
<circle cx="508.1" cy="404.6" r="2.15"/>
<circle cx="525.6" cy="383.4" r="2.15"/>
<circle cx="513.0" cy="388.5" r="2.15"/>
<circle cx="560.8" cy="351.9" r="2.15"/>
<circle cx="576.0" cy="345.4" r="2.15"/>
<circle cx="544.8" cy="369.2" r="2.15"/>
<circle cx="507.9" cy="398.9" r="2.15"/>
<circle cx="572.3" cy="349.1" r="2.15"/>
<circle cx="531.0" cy="377.1" r="2.15"/>
<circle cx="578.1" cy="340.5" r="2.15"/>
<circle cx="500.2" cy="399.0" r="2.15"/>
<circle cx="537.9" cy="371.5" r="2.15"/>
<circle cx="542.3" cy="372.3" r="2.15"/>
<circle cx="542.8" cy="371.7" r="2.15"/>
<circle cx="512.5" cy="389.8" r="2.15"/>
<circle cx="525.9" cy="385.3" r="2.15"/>
<circle cx="522.7" cy="382.5" r="2.15"/>
<circle cx="560.5" cy="354.3" r="2.15"/>
<circle cx="553.0" cy="363.6" r="2.15"/>
<circle cx="530.8" cy="382.6" r="2.15"/>
<circle cx="575.4" cy="344.5" r="2.15"/>
<circle cx="528.2" cy="378.1" r="2.15"/>
<circle cx="568.5" cy="347.2" r="2.15"/>
<circle cx="560.3" cy="355.4" r="2.15"/>
<circle cx="565.4" cy="347.5" r="2.15"/>
<circle cx="531.8" cy="375.8" r="2.15"/>
<circle cx="503.6" cy="401.4" r="2.15"/>
<circle cx="558.0" cy="355.7" r="2.15"/>
<circle cx="518.3" cy="396.1" r="2.15"/>
<circle cx="500.3" cy="400.8" r="2.15"/>
<circle cx="565.5" cy="354.4" r="2.15"/>
<circle cx="532.3" cy="377.9" r="2.15"/>
<circle cx="566.4" cy="348.5" r="2.15"/>
<circle cx="559.8" cy="351.2" r="2.15"/>
<circle cx="553.2" cy="365.3" r="2.15"/>
<circle cx="549.8" cy="366.8" r="2.15"/>
<circle cx="545.0" cy="364.9" r="2.15"/>
<circle cx="570.9" cy="345.1" r="2.15"/>
<circle cx="505.6" cy="395.5" r="2.15"/>
<circle cx="509.3" cy="403.5" r="2.15"/>
<circle cx="550.8" cy="359.3" r="2.15"/>
<circle cx="537.8" cy="371.2" r="2.15"/>
<circle cx="511.4" cy="391.0" r="2.15"/>
<circle cx="542.3" cy="367.3" r="2.15"/>
<circle cx="555.2" cy="362.3" r="2.15"/>
<circle cx="498.6" cy="404.5" r="2.15"/>
<circle cx="503.1" cy="406.8" r="2.15"/>
<circle cx="518.4" cy="394.2" r="2.15"/>
<circle cx="523.2" cy="379.8" r="2.15"/>
<circle cx="570.5" cy="346.3" r="2.15"/>
<circle cx="538.5" cy="373.6" r="2.15"/>
<circle cx="546.4" cy="366.8" r="2.15"/>
<circle cx="557.1" cy="361.1" r="2.15"/>
<circle cx="540.3" cy="373.0" r="2.15"/>
<circle cx="503.1" cy="407.6" r="2.15"/>
<circle cx="523.6" cy="391.2" r="2.15"/>
<circle cx="506.7" cy="394.7" r="2.15"/>
<circle cx="559.2" cy="356.0" r="2.15"/>
<circle cx="548.0" cy="361.1" r="2.15"/>
<circle cx="539.7" cy="370.8" r="2.15"/>
<circle cx="530.3" cy="377.4" r="2.15"/>
<circle cx="517.9" cy="394.1" r="2.15"/>
<circle cx="563.8" cy="353.9" r="2.15"/>
<circle cx="529.0" cy="380.5" r="2.15"/>
<circle cx="548.9" cy="369.0" r="2.15"/>
<circle cx="537.6" cy="375.7" r="2.15"/>
<circle cx="569.7" cy="350.2" r="2.15"/>
<circle cx="551.8" cy="364.3" r="2.15"/>
<circle cx="554.3" cy="361.4" r="2.15"/>
<circle cx="529.1" cy="382.9" r="2.15"/>
<circle cx="564.4" cy="356.0" r="2.15"/>
<circle cx="523.2" cy="383.6" r="2.15"/>
<circle cx="529.5" cy="376.4" r="2.15"/>
<circle cx="522.4" cy="392.0" r="2.15"/>
<circle cx="557.8" cy="357.9" r="2.15"/>
<circle cx="554.7" cy="358.0" r="2.15"/>
<circle cx="525.0" cy="385.4" r="2.15"/>
<circle cx="574.6" cy="342.5" r="2.15"/>
<circle cx="518.5" cy="395.8" r="2.15"/>
<circle cx="514.1" cy="396.3" r="2.15"/>
<circle cx="520.3" cy="387.7" r="2.15"/>
<circle cx="533.2" cy="377.8" r="2.15"/>
<circle cx="520.6" cy="383.8" r="2.15"/>
<circle cx="513.2" cy="401.9" r="2.15"/>
<circle cx="500.8" cy="409.5" r="2.15"/>
<circle cx="499.5" cy="405.0" r="2.15"/>
<circle cx="501.2" cy="405.5" r="2.15"/>
<circle cx="498.6" cy="406.2" r="2.15"/>
<circle cx="505.6" cy="396.8" r="2.15"/>
<circle cx="527.8" cy="378.1" r="2.15"/>
<circle cx="561.7" cy="356.5" r="2.15"/>
<circle cx="513.1" cy="393.5" r="2.15"/>
<circle cx="542.4" cy="368.3" r="2.15"/>
<circle cx="572.5" cy="348.2" r="2.15"/>
<circle cx="499.4" cy="407.7" r="2.15"/>
<circle cx="558.1" cy="359.6" r="2.15"/>
<circle cx="513.2" cy="388.8" r="2.15"/>
<circle cx="547.9" cy="364.5" r="2.15"/>
<circle cx="562.4" cy="352.0" r="2.15"/>
<circle cx="522.0" cy="389.2" r="2.15"/>
<circle cx="569.7" cy="345.3" r="2.15"/>
<circle cx="552.6" cy="359.0" r="2.15"/>
<circle cx="519.7" cy="384.1" r="2.15"/>
<circle cx="552.8" cy="362.5" r="2.15"/>
<circle cx="510.7" cy="391.7" r="2.15"/>
<circle cx="530.9" cy="380.4" r="2.15"/>
<circle cx="556.6" cy="359.2" r="2.15"/>
<circle cx="515.2" cy="387.2" r="2.15"/>
<circle cx="526.4" cy="382.8" r="2.15"/>
<circle cx="555.1" cy="358.8" r="2.15"/>
<circle cx="511.0" cy="402.2" r="2.15"/>
<circle cx="552.7" cy="357.6" r="2.15"/>
<circle cx="560.6" cy="357.0" r="2.15"/>
<circle cx="576.1" cy="341.8" r="2.15"/>
<circle cx="573.8" cy="348.2" r="2.15"/>
<circle cx="526.3" cy="383.9" r="2.15"/>
<circle cx="546.9" cy="368.3" r="2.15"/>
<circle cx="572.9" cy="345.7" r="2.15"/>
<circle cx="569.0" cy="347.1" r="2.15"/>
<circle cx="560.4" cy="357.0" r="2.15"/>
<circle cx="569.1" cy="348.1" r="2.15"/>
<circle cx="512.4" cy="396.4" r="2.15"/>
<circle cx="563.6" cy="351.5" r="2.15"/>
<circle cx="532.0" cy="378.8" r="2.15"/>
<circle cx="500.1" cy="407.2" r="2.15"/>
<circle cx="572.7" cy="346.4" r="2.15"/>
<circle cx="570.1" cy="348.6" r="2.15"/>
<circle cx="532.2" cy="379.4" r="2.15"/>
<circle cx="560.1" cy="357.1" r="2.15"/>
<circle cx="532.6" cy="376.1" r="2.15"/>
<circle cx="537.4" cy="371.3" r="2.15"/>
<circle cx="500.9" cy="408.6" r="2.15"/>
<circle cx="545.2" cy="370.3" r="2.15"/>
<circle cx="578.0" cy="339.4" r="2.15"/>
<circle cx="529.7" cy="374.8" r="2.15"/>
<circle cx="544.4" cy="371.9" r="2.15"/>
<circle cx="513.9" cy="390.3" r="2.15"/>
<circle cx="536.9" cy="369.6" r="2.15"/>
<circle cx="527.8" cy="384.2" r="2.15"/>
<circle cx="529.4" cy="381.5" r="2.15"/>
<circle cx="546.2" cy="369.3" r="2.15"/>
<circle cx="528.2" cy="377.9" r="2.15"/>
<circle cx="560.9" cy="357.4" r="2.15"/>
<circle cx="566.2" cy="354.0" r="2.15"/>
<circle cx="504.2" cy="398.9" r="2.15"/>
<circle cx="564.9" cy="349.4" r="2.15"/>
<circle cx="552.9" cy="359.3" r="2.15"/>
<circle cx="538.1" cy="375.3" r="2.15"/>
<circle cx="515.5" cy="395.2" r="2.15"/>
<circle cx="527.6" cy="379.2" r="2.15"/>
<circle cx="509.4" cy="391.1" r="2.15"/>
<circle cx="507.9" cy="404.2" r="2.15"/>
<circle cx="550.7" cy="358.9" r="2.15"/>
<circle cx="533.7" cy="375.8" r="2.15"/>
<circle cx="575.5" cy="341.9" r="2.15"/>
<circle cx="527.4" cy="379.5" r="2.15"/>
<circle cx="558.8" cy="356.7" r="2.15"/>
<circle cx="516.0" cy="396.9" r="2.15"/>
<circle cx="499.6" cy="406.8" r="2.15"/>
<circle cx="545.2" cy="368.7" r="2.15"/>
<circle cx="505.0" cy="401.7" r="2.15"/>
<circle cx="524.3" cy="383.6" r="2.15"/>
<circle cx="515.3" cy="386.8" r="2.15"/>
<circle cx="548.2" cy="368.3" r="2.15"/>
<circle cx="515.8" cy="387.0" r="2.15"/>
<circle cx="530.6" cy="381.5" r="2.15"/>
<circle cx="514.4" cy="396.5" r="2.15"/>
<circle cx="517.5" cy="392.7" r="2.15"/>
<circle cx="505.7" cy="395.4" r="2.15"/>
<circle cx="539.9" cy="372.7" r="2.15"/>
<circle cx="498.7" cy="402.8" r="2.15"/>
<circle cx="526.8" cy="386.6" r="2.15"/>
<circle cx="500.8" cy="405.2" r="2.15"/>
<circle cx="544.7" cy="365.2" r="2.15"/>
<circle cx="572.6" cy="343.6" r="2.15"/>
<circle cx="555.9" cy="358.5" r="2.15"/>
<circle cx="511.2" cy="393.7" r="2.15"/>
<circle cx="529.3" cy="382.4" r="2.15"/>
<circle cx="502.3" cy="400.8" r="2.15"/>
<circle cx="561.8" cy="356.3" r="2.15"/>
<circle cx="477.9" cy="424.8" r="2.15"/>
<circle cx="476.9" cy="429.8" r="2.15"/>
<circle cx="485.5" cy="418.1" r="2.15"/>
<circle cx="483.7" cy="427.1" r="2.15"/>
<circle cx="485.1" cy="424.0" r="2.15"/>
<circle cx="490.3" cy="417.0" r="2.15"/>
<circle cx="488.5" cy="417.3" r="2.15"/>
<circle cx="479.2" cy="426.1" r="2.15"/>
<circle cx="481.9" cy="422.0" r="2.15"/>
<circle cx="478.9" cy="431.3" r="2.15"/>
<circle cx="485.1" cy="418.1" r="2.15"/>
<circle cx="474.8" cy="426.0" r="2.15"/>
<circle cx="496.6" cy="410.0" r="2.15"/>
<circle cx="491.3" cy="413.2" r="2.15"/>
<circle cx="490.9" cy="416.2" r="2.15"/>
<circle cx="493.1" cy="415.2" r="2.15"/>
<circle cx="483.8" cy="420.0" r="2.15"/>
<circle cx="489.5" cy="422.0" r="2.15"/>
<circle cx="492.0" cy="415.6" r="2.15"/>
<circle cx="482.5" cy="428.3" r="2.15"/>
<circle cx="496.0" cy="408.2" r="2.15"/>
<circle cx="491.7" cy="419.4" r="2.15"/>
<circle cx="491.6" cy="421.8" r="2.15"/>
<circle cx="496.9" cy="408.6" r="2.15"/>
<circle cx="499.9" cy="407.0" r="2.15"/>
</g>
<line x1="37.7" y1="484.2" x2="279.8" y2="272.3" stroke="#4472c4" stroke-width="1.9" stroke-dasharray="6.4,3.03" stroke-dashoffset="0.6"/>
<line x1="399.8" y1="484.2" x2="641.7" y2="272.6" stroke="#4472c4" stroke-width="1.9" stroke-dasharray="6.4,3.03" stroke-dashoffset="0.1"/>
<text x="143.40" y="18.43" font-size="16.80" fill="#000" style="font-family:'Liberation Sans'" textLength="49.18" lengthAdjust="spacingAndGlyphs">Stage I</text>
<text x="483.45" y="18.48" font-size="16.80" fill="#000" style="font-family:'Liberation Sans'" textLength="52.89" lengthAdjust="spacingAndGlyphs">Stage II</text>
<text x="5.10" y="15.63" font-size="21.30" fill="#000" style="font-family:'Liberation Sans'" textLength="9.63" lengthAdjust="spacingAndGlyphs">a</text>
<text x="350.80" y="15.30" font-size="21.30" fill="#000" style="font-family:'Liberation Sans'" textLength="13.04" lengthAdjust="spacingAndGlyphs">b</text>
<text x="4.95" y="246.87" font-size="20.80" fill="#000" style="font-family:'Liberation Sans'" stroke="#000" stroke-width="0.5" textLength="9.40" lengthAdjust="spacingAndGlyphs">c</text>
<text x="351.00" y="246.75" font-size="21.00" fill="#000" style="font-family:'Liberation Sans'" textLength="12.35" lengthAdjust="spacingAndGlyphs">d</text>
<text x="166.20" y="110.17" font-size="11.80" fill="#d81e63" style="font-family:'Liberation Sans'" stroke="#d81e63" stroke-width="0.25" textLength="102.98" lengthAdjust="spacingAndGlyphs">Val. accuracy = 0.96</text>
<text x="490.55" y="113.00" font-size="11.80" fill="#d81e63" style="font-family:'Liberation Sans'" stroke="#d81e63" stroke-width="0.25" textLength="121.78" lengthAdjust="spacingAndGlyphs">Val. Pearson’s R = 0.937</text>
<text x="88.15" y="251.33" font-size="16.50" fill="#000" style="font-family:'Liberation Serif'" textLength="136.98" lengthAdjust="spacingAndGlyphs">Pearson’s R = 0.834</text>
<text x="438.95" y="251.23" font-size="16.50" fill="#000" style="font-family:'Liberation Serif'" textLength="136.99" lengthAdjust="spacingAndGlyphs">Pearson’s R = 0.937</text>
<text x="47.50" y="336.42" font-size="13.90" fill="#e0509e" style="font-family:'Liberation Sans'" textLength="143.19" lengthAdjust="spacingAndGlyphs">“Memorized” predictions</text>
<text x="38.00" y="518.75" font-size="16.20" fill="#000" style="font-family:'Liberation Sans'" textLength="248.36" lengthAdjust="spacingAndGlyphs">Actual months-to-death (log-scale)</text>
<text x="398.20" y="518.85" font-size="16.20" fill="#000" style="font-family:'Liberation Sans'" textLength="247.56" lengthAdjust="spacingAndGlyphs">Actual months-to-death (log-scale)</text>
<text x="154.00" y="199.95" font-size="11.60" fill="#000" style="font-family:'Liberation Sans'" textLength="34.64" lengthAdjust="spacingAndGlyphs">Epoch</text>
<text x="489.00" y="200.55" font-size="11.60" fill="#000" style="font-family:'Liberation Sans'" textLength="34.64" lengthAdjust="spacingAndGlyphs">Epoch</text>
<text x="100.20" y="144.12" font-size="11.20" fill="#000" style="font-family:'Liberation Sans'" textLength="25.09" lengthAdjust="spacingAndGlyphs">Train</text>
<text x="435.40" y="144.82" font-size="11.20" fill="#000" style="font-family:'Liberation Sans'" textLength="25.09" lengthAdjust="spacingAndGlyphs">Train</text>
<text x="100.60" y="159.80" font-size="11.20" fill="#000" style="font-family:'Liberation Sans'" textLength="15.29" lengthAdjust="spacingAndGlyphs">Val</text>
<text x="435.80" y="160.50" font-size="11.20" fill="#000" style="font-family:'Liberation Sans'" textLength="15.29" lengthAdjust="spacingAndGlyphs">Val</text>
<text transform="translate(32.37,123.85) rotate(-90)" x="0" y="0" font-size="12.00" fill="#000" style="font-family:'Liberation Sans'" textLength="49.24" lengthAdjust="spacingAndGlyphs">Accuracy</text>
<text transform="translate(367.62,132.90) rotate(-90)" x="0" y="0" font-size="12.00" fill="#000" style="font-family:'Liberation Sans'" textLength="65.67" lengthAdjust="spacingAndGlyphs">Pearson's R</text>
<text transform="translate(12.75,418.10) rotate(-90)" x="0" y="0" font-size="16.30" fill="#000" style="font-family:'Liberation Sans'" textLength="76.61" lengthAdjust="spacingAndGlyphs">Prediction</text>
<text transform="translate(370.70,418.10) rotate(-90)" x="0" y="0" font-size="16.30" fill="#000" style="font-family:'Liberation Sans'" textLength="76.61" lengthAdjust="spacingAndGlyphs">Prediction</text>
<rect x="37.7" y="272.3" width="242.10000000000002" height="211.89999999999998" fill="none" stroke="#000" stroke-width="1.35"/>
<rect x="399.8" y="272.6" width="241.90000000000003" height="211.59999999999997" fill="none" stroke="#000" stroke-width="1.35"/>
</svg>
</body></html>
